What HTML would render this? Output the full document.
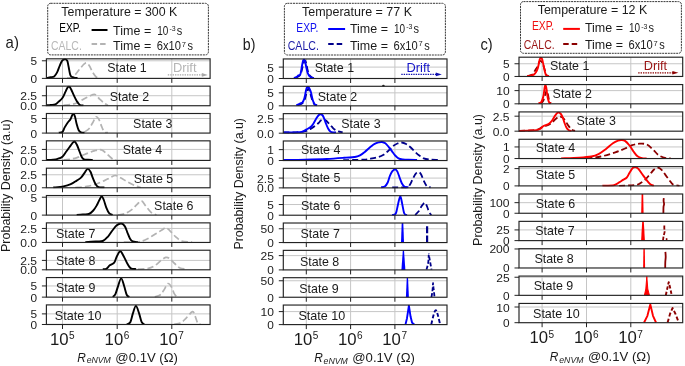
<!DOCTYPE html><html><head><meta charset="utf-8"><style>html,body{margin:0;padding:0;background:#fff;}svg{display:block;will-change:transform;}</style></head><body><svg width="685" height="366" viewBox="0 0 685 366" font-family='"Liberation Sans", sans-serif'>
<rect width="685" height="366" fill="#fff"/>
<line x1="62.50" y1="58.81" x2="62.50" y2="78.39" stroke="#c6c6c6" stroke-width="1"/>
<line x1="117.20" y1="58.81" x2="117.20" y2="78.39" stroke="#c6c6c6" stroke-width="1"/>
<line x1="171.80" y1="58.81" x2="171.80" y2="78.39" stroke="#c6c6c6" stroke-width="1"/>
<line x1="46.40" y1="60.79" x2="210.10" y2="60.79" stroke="#c6c6c6" stroke-width="1"/>
<line x1="62.50" y1="78.39" x2="62.50" y2="82.89" stroke="#222222" stroke-width="1"/>
<line x1="117.20" y1="78.39" x2="117.20" y2="82.89" stroke="#222222" stroke-width="1"/>
<line x1="171.80" y1="78.39" x2="171.80" y2="82.89" stroke="#222222" stroke-width="1"/>
<line x1="41.90" y1="60.79" x2="46.40" y2="60.79" stroke="#222222" stroke-width="1"/>
<line x1="41.90" y1="78.39" x2="46.40" y2="78.39" stroke="#222222" stroke-width="1"/>
<text x="37.00" y="65.29" font-size="10.8" text-anchor="end" fill="#1a1a1a" textLength="6.60" lengthAdjust="spacingAndGlyphs">5</text>
<text x="37.00" y="82.89" font-size="10.8" text-anchor="end" fill="#1a1a1a" textLength="6.60" lengthAdjust="spacingAndGlyphs">0</text>
<line x1="62.50" y1="86.15" x2="62.50" y2="105.73" stroke="#c6c6c6" stroke-width="1"/>
<line x1="117.20" y1="86.15" x2="117.20" y2="105.73" stroke="#c6c6c6" stroke-width="1"/>
<line x1="171.80" y1="86.15" x2="171.80" y2="105.73" stroke="#c6c6c6" stroke-width="1"/>
<line x1="46.40" y1="95.73" x2="210.10" y2="95.73" stroke="#c6c6c6" stroke-width="1"/>
<line x1="62.50" y1="105.73" x2="62.50" y2="110.23" stroke="#222222" stroke-width="1"/>
<line x1="117.20" y1="105.73" x2="117.20" y2="110.23" stroke="#222222" stroke-width="1"/>
<line x1="171.80" y1="105.73" x2="171.80" y2="110.23" stroke="#222222" stroke-width="1"/>
<line x1="41.90" y1="95.73" x2="46.40" y2="95.73" stroke="#222222" stroke-width="1"/>
<line x1="41.90" y1="105.73" x2="46.40" y2="105.73" stroke="#222222" stroke-width="1"/>
<text x="37.00" y="100.23" font-size="10.8" text-anchor="end" fill="#1a1a1a" textLength="16.80" lengthAdjust="spacingAndGlyphs">2.5</text>
<text x="37.00" y="110.23" font-size="10.8" text-anchor="end" fill="#1a1a1a" textLength="16.80" lengthAdjust="spacingAndGlyphs">0.0</text>
<line x1="62.50" y1="113.50" x2="62.50" y2="133.08" stroke="#c6c6c6" stroke-width="1"/>
<line x1="117.20" y1="113.50" x2="117.20" y2="133.08" stroke="#c6c6c6" stroke-width="1"/>
<line x1="171.80" y1="113.50" x2="171.80" y2="133.08" stroke="#c6c6c6" stroke-width="1"/>
<line x1="46.40" y1="118.48" x2="210.10" y2="118.48" stroke="#c6c6c6" stroke-width="1"/>
<line x1="62.50" y1="133.08" x2="62.50" y2="137.58" stroke="#222222" stroke-width="1"/>
<line x1="117.20" y1="133.08" x2="117.20" y2="137.58" stroke="#222222" stroke-width="1"/>
<line x1="171.80" y1="133.08" x2="171.80" y2="137.58" stroke="#222222" stroke-width="1"/>
<line x1="41.90" y1="118.48" x2="46.40" y2="118.48" stroke="#222222" stroke-width="1"/>
<line x1="41.90" y1="133.08" x2="46.40" y2="133.08" stroke="#222222" stroke-width="1"/>
<text x="37.00" y="122.98" font-size="10.8" text-anchor="end" fill="#1a1a1a" textLength="6.60" lengthAdjust="spacingAndGlyphs">5</text>
<text x="37.00" y="137.58" font-size="10.8" text-anchor="end" fill="#1a1a1a" textLength="6.60" lengthAdjust="spacingAndGlyphs">0</text>
<line x1="62.50" y1="140.84" x2="62.50" y2="160.42" stroke="#c6c6c6" stroke-width="1"/>
<line x1="117.20" y1="140.84" x2="117.20" y2="160.42" stroke="#c6c6c6" stroke-width="1"/>
<line x1="171.80" y1="140.84" x2="171.80" y2="160.42" stroke="#c6c6c6" stroke-width="1"/>
<line x1="46.40" y1="149.42" x2="210.10" y2="149.42" stroke="#c6c6c6" stroke-width="1"/>
<line x1="62.50" y1="160.42" x2="62.50" y2="164.92" stroke="#222222" stroke-width="1"/>
<line x1="117.20" y1="160.42" x2="117.20" y2="164.92" stroke="#222222" stroke-width="1"/>
<line x1="171.80" y1="160.42" x2="171.80" y2="164.92" stroke="#222222" stroke-width="1"/>
<line x1="41.90" y1="149.42" x2="46.40" y2="149.42" stroke="#222222" stroke-width="1"/>
<line x1="41.90" y1="160.42" x2="46.40" y2="160.42" stroke="#222222" stroke-width="1"/>
<text x="37.00" y="153.92" font-size="10.8" text-anchor="end" fill="#1a1a1a" textLength="16.80" lengthAdjust="spacingAndGlyphs">2.5</text>
<text x="37.00" y="164.92" font-size="10.8" text-anchor="end" fill="#1a1a1a" textLength="16.80" lengthAdjust="spacingAndGlyphs">0.0</text>
<line x1="62.50" y1="168.19" x2="62.50" y2="187.77" stroke="#c6c6c6" stroke-width="1"/>
<line x1="117.20" y1="168.19" x2="117.20" y2="187.77" stroke="#c6c6c6" stroke-width="1"/>
<line x1="171.80" y1="168.19" x2="171.80" y2="187.77" stroke="#c6c6c6" stroke-width="1"/>
<line x1="46.40" y1="174.77" x2="210.10" y2="174.77" stroke="#c6c6c6" stroke-width="1"/>
<line x1="62.50" y1="187.77" x2="62.50" y2="192.27" stroke="#222222" stroke-width="1"/>
<line x1="117.20" y1="187.77" x2="117.20" y2="192.27" stroke="#222222" stroke-width="1"/>
<line x1="171.80" y1="187.77" x2="171.80" y2="192.27" stroke="#222222" stroke-width="1"/>
<line x1="41.90" y1="174.77" x2="46.40" y2="174.77" stroke="#222222" stroke-width="1"/>
<line x1="41.90" y1="187.77" x2="46.40" y2="187.77" stroke="#222222" stroke-width="1"/>
<text x="37.00" y="179.27" font-size="10.8" text-anchor="end" fill="#1a1a1a" textLength="16.80" lengthAdjust="spacingAndGlyphs">2.5</text>
<text x="37.00" y="192.27" font-size="10.8" text-anchor="end" fill="#1a1a1a" textLength="16.80" lengthAdjust="spacingAndGlyphs">0.0</text>
<line x1="62.50" y1="195.53" x2="62.50" y2="215.11" stroke="#c6c6c6" stroke-width="1"/>
<line x1="117.20" y1="195.53" x2="117.20" y2="215.11" stroke="#c6c6c6" stroke-width="1"/>
<line x1="171.80" y1="195.53" x2="171.80" y2="215.11" stroke="#c6c6c6" stroke-width="1"/>
<line x1="46.40" y1="197.21" x2="210.10" y2="197.21" stroke="#c6c6c6" stroke-width="1"/>
<line x1="62.50" y1="215.11" x2="62.50" y2="219.61" stroke="#222222" stroke-width="1"/>
<line x1="117.20" y1="215.11" x2="117.20" y2="219.61" stroke="#222222" stroke-width="1"/>
<line x1="171.80" y1="215.11" x2="171.80" y2="219.61" stroke="#222222" stroke-width="1"/>
<line x1="41.90" y1="197.21" x2="46.40" y2="197.21" stroke="#222222" stroke-width="1"/>
<line x1="41.90" y1="215.11" x2="46.40" y2="215.11" stroke="#222222" stroke-width="1"/>
<text x="37.00" y="201.71" font-size="10.8" text-anchor="end" fill="#1a1a1a" textLength="6.60" lengthAdjust="spacingAndGlyphs">5</text>
<text x="37.00" y="219.61" font-size="10.8" text-anchor="end" fill="#1a1a1a" textLength="6.60" lengthAdjust="spacingAndGlyphs">0</text>
<line x1="62.50" y1="222.87" x2="62.50" y2="242.45" stroke="#c6c6c6" stroke-width="1"/>
<line x1="117.20" y1="222.87" x2="117.20" y2="242.45" stroke="#c6c6c6" stroke-width="1"/>
<line x1="171.80" y1="222.87" x2="171.80" y2="242.45" stroke="#c6c6c6" stroke-width="1"/>
<line x1="46.40" y1="228.45" x2="210.10" y2="228.45" stroke="#c6c6c6" stroke-width="1"/>
<line x1="62.50" y1="242.45" x2="62.50" y2="246.95" stroke="#222222" stroke-width="1"/>
<line x1="117.20" y1="242.45" x2="117.20" y2="246.95" stroke="#222222" stroke-width="1"/>
<line x1="171.80" y1="242.45" x2="171.80" y2="246.95" stroke="#222222" stroke-width="1"/>
<line x1="41.90" y1="228.45" x2="46.40" y2="228.45" stroke="#222222" stroke-width="1"/>
<line x1="41.90" y1="242.45" x2="46.40" y2="242.45" stroke="#222222" stroke-width="1"/>
<text x="37.00" y="232.95" font-size="10.8" text-anchor="end" fill="#1a1a1a" textLength="16.80" lengthAdjust="spacingAndGlyphs">2.5</text>
<text x="37.00" y="246.95" font-size="10.8" text-anchor="end" fill="#1a1a1a" textLength="16.80" lengthAdjust="spacingAndGlyphs">0.0</text>
<line x1="62.50" y1="250.22" x2="62.50" y2="269.80" stroke="#c6c6c6" stroke-width="1"/>
<line x1="117.20" y1="250.22" x2="117.20" y2="269.80" stroke="#c6c6c6" stroke-width="1"/>
<line x1="171.80" y1="250.22" x2="171.80" y2="269.80" stroke="#c6c6c6" stroke-width="1"/>
<line x1="46.40" y1="260.40" x2="210.10" y2="260.40" stroke="#c6c6c6" stroke-width="1"/>
<line x1="62.50" y1="269.80" x2="62.50" y2="274.30" stroke="#222222" stroke-width="1"/>
<line x1="117.20" y1="269.80" x2="117.20" y2="274.30" stroke="#222222" stroke-width="1"/>
<line x1="171.80" y1="269.80" x2="171.80" y2="274.30" stroke="#222222" stroke-width="1"/>
<line x1="41.90" y1="260.40" x2="46.40" y2="260.40" stroke="#222222" stroke-width="1"/>
<line x1="41.90" y1="269.80" x2="46.40" y2="269.80" stroke="#222222" stroke-width="1"/>
<text x="37.00" y="264.90" font-size="10.8" text-anchor="end" fill="#1a1a1a" textLength="16.80" lengthAdjust="spacingAndGlyphs">2.5</text>
<text x="37.00" y="274.30" font-size="10.8" text-anchor="end" fill="#1a1a1a" textLength="16.80" lengthAdjust="spacingAndGlyphs">0.0</text>
<line x1="62.50" y1="277.56" x2="62.50" y2="297.14" stroke="#c6c6c6" stroke-width="1"/>
<line x1="117.20" y1="277.56" x2="117.20" y2="297.14" stroke="#c6c6c6" stroke-width="1"/>
<line x1="171.80" y1="277.56" x2="171.80" y2="297.14" stroke="#c6c6c6" stroke-width="1"/>
<line x1="46.40" y1="285.94" x2="210.10" y2="285.94" stroke="#c6c6c6" stroke-width="1"/>
<line x1="62.50" y1="297.14" x2="62.50" y2="301.64" stroke="#222222" stroke-width="1"/>
<line x1="117.20" y1="297.14" x2="117.20" y2="301.64" stroke="#222222" stroke-width="1"/>
<line x1="171.80" y1="297.14" x2="171.80" y2="301.64" stroke="#222222" stroke-width="1"/>
<line x1="41.90" y1="285.94" x2="46.40" y2="285.94" stroke="#222222" stroke-width="1"/>
<line x1="41.90" y1="297.14" x2="46.40" y2="297.14" stroke="#222222" stroke-width="1"/>
<text x="37.00" y="290.44" font-size="10.8" text-anchor="end" fill="#1a1a1a" textLength="6.60" lengthAdjust="spacingAndGlyphs">5</text>
<text x="37.00" y="301.64" font-size="10.8" text-anchor="end" fill="#1a1a1a" textLength="6.60" lengthAdjust="spacingAndGlyphs">0</text>
<line x1="62.50" y1="304.91" x2="62.50" y2="324.49" stroke="#c6c6c6" stroke-width="1"/>
<line x1="117.20" y1="304.91" x2="117.20" y2="324.49" stroke="#c6c6c6" stroke-width="1"/>
<line x1="171.80" y1="304.91" x2="171.80" y2="324.49" stroke="#c6c6c6" stroke-width="1"/>
<line x1="46.40" y1="313.89" x2="210.10" y2="313.89" stroke="#c6c6c6" stroke-width="1"/>
<line x1="62.50" y1="324.49" x2="62.50" y2="328.99" stroke="#222222" stroke-width="1"/>
<line x1="117.20" y1="324.49" x2="117.20" y2="328.99" stroke="#222222" stroke-width="1"/>
<line x1="171.80" y1="324.49" x2="171.80" y2="328.99" stroke="#222222" stroke-width="1"/>
<line x1="41.90" y1="313.89" x2="46.40" y2="313.89" stroke="#222222" stroke-width="1"/>
<line x1="41.90" y1="324.49" x2="46.40" y2="324.49" stroke="#222222" stroke-width="1"/>
<text x="37.00" y="318.39" font-size="10.8" text-anchor="end" fill="#1a1a1a" textLength="6.60" lengthAdjust="spacingAndGlyphs">5</text>
<text x="37.00" y="328.99" font-size="10.8" text-anchor="end" fill="#1a1a1a" textLength="6.60" lengthAdjust="spacingAndGlyphs">0</text>
<line x1="306.30" y1="58.95" x2="306.30" y2="78.50" stroke="#c6c6c6" stroke-width="1"/>
<line x1="350.60" y1="58.95" x2="350.60" y2="78.50" stroke="#c6c6c6" stroke-width="1"/>
<line x1="394.90" y1="58.95" x2="394.90" y2="78.50" stroke="#c6c6c6" stroke-width="1"/>
<line x1="283.30" y1="67.10" x2="447.00" y2="67.10" stroke="#c6c6c6" stroke-width="1"/>
<line x1="306.30" y1="78.50" x2="306.30" y2="83.00" stroke="#222222" stroke-width="1"/>
<line x1="350.60" y1="78.50" x2="350.60" y2="83.00" stroke="#222222" stroke-width="1"/>
<line x1="394.90" y1="78.50" x2="394.90" y2="83.00" stroke="#222222" stroke-width="1"/>
<line x1="278.80" y1="67.10" x2="283.30" y2="67.10" stroke="#222222" stroke-width="1"/>
<line x1="278.80" y1="78.50" x2="283.30" y2="78.50" stroke="#222222" stroke-width="1"/>
<text x="273.90" y="71.60" font-size="10.8" text-anchor="end" fill="#1a1a1a" textLength="6.60" lengthAdjust="spacingAndGlyphs">5</text>
<text x="273.90" y="83.00" font-size="10.8" text-anchor="end" fill="#1a1a1a" textLength="6.60" lengthAdjust="spacingAndGlyphs">0</text>
<line x1="306.30" y1="86.29" x2="306.30" y2="105.84" stroke="#c6c6c6" stroke-width="1"/>
<line x1="350.60" y1="86.29" x2="350.60" y2="105.84" stroke="#c6c6c6" stroke-width="1"/>
<line x1="394.90" y1="86.29" x2="394.90" y2="105.84" stroke="#c6c6c6" stroke-width="1"/>
<line x1="283.30" y1="92.84" x2="447.00" y2="92.84" stroke="#c6c6c6" stroke-width="1"/>
<line x1="306.30" y1="105.84" x2="306.30" y2="110.34" stroke="#222222" stroke-width="1"/>
<line x1="350.60" y1="105.84" x2="350.60" y2="110.34" stroke="#222222" stroke-width="1"/>
<line x1="394.90" y1="105.84" x2="394.90" y2="110.34" stroke="#222222" stroke-width="1"/>
<line x1="278.80" y1="92.84" x2="283.30" y2="92.84" stroke="#222222" stroke-width="1"/>
<line x1="278.80" y1="105.84" x2="283.30" y2="105.84" stroke="#222222" stroke-width="1"/>
<text x="273.90" y="97.34" font-size="10.8" text-anchor="end" fill="#1a1a1a" textLength="6.60" lengthAdjust="spacingAndGlyphs">5</text>
<text x="273.90" y="110.34" font-size="10.8" text-anchor="end" fill="#1a1a1a" textLength="6.60" lengthAdjust="spacingAndGlyphs">0</text>
<line x1="306.30" y1="113.64" x2="306.30" y2="133.19" stroke="#c6c6c6" stroke-width="1"/>
<line x1="350.60" y1="113.64" x2="350.60" y2="133.19" stroke="#c6c6c6" stroke-width="1"/>
<line x1="394.90" y1="113.64" x2="394.90" y2="133.19" stroke="#c6c6c6" stroke-width="1"/>
<line x1="283.30" y1="118.89" x2="447.00" y2="118.89" stroke="#c6c6c6" stroke-width="1"/>
<line x1="306.30" y1="133.19" x2="306.30" y2="137.69" stroke="#222222" stroke-width="1"/>
<line x1="350.60" y1="133.19" x2="350.60" y2="137.69" stroke="#222222" stroke-width="1"/>
<line x1="394.90" y1="133.19" x2="394.90" y2="137.69" stroke="#222222" stroke-width="1"/>
<line x1="278.80" y1="118.89" x2="283.30" y2="118.89" stroke="#222222" stroke-width="1"/>
<line x1="278.80" y1="133.19" x2="283.30" y2="133.19" stroke="#222222" stroke-width="1"/>
<text x="273.90" y="123.39" font-size="10.8" text-anchor="end" fill="#1a1a1a" textLength="16.80" lengthAdjust="spacingAndGlyphs">2.5</text>
<text x="273.90" y="137.69" font-size="10.8" text-anchor="end" fill="#1a1a1a" textLength="16.80" lengthAdjust="spacingAndGlyphs">0.0</text>
<line x1="306.30" y1="140.98" x2="306.30" y2="160.53" stroke="#c6c6c6" stroke-width="1"/>
<line x1="350.60" y1="140.98" x2="350.60" y2="160.53" stroke="#c6c6c6" stroke-width="1"/>
<line x1="394.90" y1="140.98" x2="394.90" y2="160.53" stroke="#c6c6c6" stroke-width="1"/>
<line x1="283.30" y1="149.63" x2="447.00" y2="149.63" stroke="#c6c6c6" stroke-width="1"/>
<line x1="306.30" y1="160.53" x2="306.30" y2="165.03" stroke="#222222" stroke-width="1"/>
<line x1="350.60" y1="160.53" x2="350.60" y2="165.03" stroke="#222222" stroke-width="1"/>
<line x1="394.90" y1="160.53" x2="394.90" y2="165.03" stroke="#222222" stroke-width="1"/>
<line x1="278.80" y1="149.63" x2="283.30" y2="149.63" stroke="#222222" stroke-width="1"/>
<line x1="278.80" y1="160.53" x2="283.30" y2="160.53" stroke="#222222" stroke-width="1"/>
<text x="273.90" y="154.13" font-size="10.8" text-anchor="end" fill="#1a1a1a" textLength="6.60" lengthAdjust="spacingAndGlyphs">1</text>
<text x="273.90" y="165.03" font-size="10.8" text-anchor="end" fill="#1a1a1a" textLength="6.60" lengthAdjust="spacingAndGlyphs">0</text>
<line x1="306.30" y1="168.33" x2="306.30" y2="187.88" stroke="#c6c6c6" stroke-width="1"/>
<line x1="350.60" y1="168.33" x2="350.60" y2="187.88" stroke="#c6c6c6" stroke-width="1"/>
<line x1="394.90" y1="168.33" x2="394.90" y2="187.88" stroke="#c6c6c6" stroke-width="1"/>
<line x1="283.30" y1="178.08" x2="447.00" y2="178.08" stroke="#c6c6c6" stroke-width="1"/>
<line x1="306.30" y1="187.88" x2="306.30" y2="192.38" stroke="#222222" stroke-width="1"/>
<line x1="350.60" y1="187.88" x2="350.60" y2="192.38" stroke="#222222" stroke-width="1"/>
<line x1="394.90" y1="187.88" x2="394.90" y2="192.38" stroke="#222222" stroke-width="1"/>
<line x1="278.80" y1="178.08" x2="283.30" y2="178.08" stroke="#222222" stroke-width="1"/>
<line x1="278.80" y1="187.88" x2="283.30" y2="187.88" stroke="#222222" stroke-width="1"/>
<text x="273.90" y="182.58" font-size="10.8" text-anchor="end" fill="#1a1a1a" textLength="16.80" lengthAdjust="spacingAndGlyphs">2.5</text>
<text x="273.90" y="192.38" font-size="10.8" text-anchor="end" fill="#1a1a1a" textLength="16.80" lengthAdjust="spacingAndGlyphs">0.0</text>
<line x1="306.30" y1="195.67" x2="306.30" y2="215.22" stroke="#c6c6c6" stroke-width="1"/>
<line x1="350.60" y1="195.67" x2="350.60" y2="215.22" stroke="#c6c6c6" stroke-width="1"/>
<line x1="394.90" y1="195.67" x2="394.90" y2="215.22" stroke="#c6c6c6" stroke-width="1"/>
<line x1="283.30" y1="204.52" x2="447.00" y2="204.52" stroke="#c6c6c6" stroke-width="1"/>
<line x1="306.30" y1="215.22" x2="306.30" y2="219.72" stroke="#222222" stroke-width="1"/>
<line x1="350.60" y1="215.22" x2="350.60" y2="219.72" stroke="#222222" stroke-width="1"/>
<line x1="394.90" y1="215.22" x2="394.90" y2="219.72" stroke="#222222" stroke-width="1"/>
<line x1="278.80" y1="204.52" x2="283.30" y2="204.52" stroke="#222222" stroke-width="1"/>
<line x1="278.80" y1="215.22" x2="283.30" y2="215.22" stroke="#222222" stroke-width="1"/>
<text x="273.90" y="209.02" font-size="10.8" text-anchor="end" fill="#1a1a1a" textLength="6.60" lengthAdjust="spacingAndGlyphs">5</text>
<text x="273.90" y="219.72" font-size="10.8" text-anchor="end" fill="#1a1a1a" textLength="6.60" lengthAdjust="spacingAndGlyphs">0</text>
<line x1="306.30" y1="223.01" x2="306.30" y2="242.56" stroke="#c6c6c6" stroke-width="1"/>
<line x1="350.60" y1="223.01" x2="350.60" y2="242.56" stroke="#c6c6c6" stroke-width="1"/>
<line x1="394.90" y1="223.01" x2="394.90" y2="242.56" stroke="#c6c6c6" stroke-width="1"/>
<line x1="283.30" y1="228.76" x2="447.00" y2="228.76" stroke="#c6c6c6" stroke-width="1"/>
<line x1="306.30" y1="242.56" x2="306.30" y2="247.06" stroke="#222222" stroke-width="1"/>
<line x1="350.60" y1="242.56" x2="350.60" y2="247.06" stroke="#222222" stroke-width="1"/>
<line x1="394.90" y1="242.56" x2="394.90" y2="247.06" stroke="#222222" stroke-width="1"/>
<line x1="278.80" y1="228.76" x2="283.30" y2="228.76" stroke="#222222" stroke-width="1"/>
<line x1="278.80" y1="242.56" x2="283.30" y2="242.56" stroke="#222222" stroke-width="1"/>
<text x="273.90" y="233.26" font-size="10.8" text-anchor="end" fill="#1a1a1a" textLength="13.40" lengthAdjust="spacingAndGlyphs">50</text>
<text x="273.90" y="247.06" font-size="10.8" text-anchor="end" fill="#1a1a1a" textLength="6.60" lengthAdjust="spacingAndGlyphs">0</text>
<line x1="306.30" y1="250.36" x2="306.30" y2="269.91" stroke="#c6c6c6" stroke-width="1"/>
<line x1="350.60" y1="250.36" x2="350.60" y2="269.91" stroke="#c6c6c6" stroke-width="1"/>
<line x1="394.90" y1="250.36" x2="394.90" y2="269.91" stroke="#c6c6c6" stroke-width="1"/>
<line x1="283.30" y1="255.61" x2="447.00" y2="255.61" stroke="#c6c6c6" stroke-width="1"/>
<line x1="306.30" y1="269.91" x2="306.30" y2="274.41" stroke="#222222" stroke-width="1"/>
<line x1="350.60" y1="269.91" x2="350.60" y2="274.41" stroke="#222222" stroke-width="1"/>
<line x1="394.90" y1="269.91" x2="394.90" y2="274.41" stroke="#222222" stroke-width="1"/>
<line x1="278.80" y1="255.61" x2="283.30" y2="255.61" stroke="#222222" stroke-width="1"/>
<line x1="278.80" y1="269.91" x2="283.30" y2="269.91" stroke="#222222" stroke-width="1"/>
<text x="273.90" y="260.11" font-size="10.8" text-anchor="end" fill="#1a1a1a" textLength="13.40" lengthAdjust="spacingAndGlyphs">25</text>
<text x="273.90" y="274.41" font-size="10.8" text-anchor="end" fill="#1a1a1a" textLength="6.60" lengthAdjust="spacingAndGlyphs">0</text>
<line x1="306.30" y1="277.70" x2="306.30" y2="297.25" stroke="#c6c6c6" stroke-width="1"/>
<line x1="350.60" y1="277.70" x2="350.60" y2="297.25" stroke="#c6c6c6" stroke-width="1"/>
<line x1="394.90" y1="277.70" x2="394.90" y2="297.25" stroke="#c6c6c6" stroke-width="1"/>
<line x1="283.30" y1="280.75" x2="447.00" y2="280.75" stroke="#c6c6c6" stroke-width="1"/>
<line x1="306.30" y1="297.25" x2="306.30" y2="301.75" stroke="#222222" stroke-width="1"/>
<line x1="350.60" y1="297.25" x2="350.60" y2="301.75" stroke="#222222" stroke-width="1"/>
<line x1="394.90" y1="297.25" x2="394.90" y2="301.75" stroke="#222222" stroke-width="1"/>
<line x1="278.80" y1="280.75" x2="283.30" y2="280.75" stroke="#222222" stroke-width="1"/>
<line x1="278.80" y1="297.25" x2="283.30" y2="297.25" stroke="#222222" stroke-width="1"/>
<text x="273.90" y="285.25" font-size="10.8" text-anchor="end" fill="#1a1a1a" textLength="13.40" lengthAdjust="spacingAndGlyphs">50</text>
<text x="273.90" y="301.75" font-size="10.8" text-anchor="end" fill="#1a1a1a" textLength="6.60" lengthAdjust="spacingAndGlyphs">0</text>
<line x1="306.30" y1="305.05" x2="306.30" y2="324.60" stroke="#c6c6c6" stroke-width="1"/>
<line x1="350.60" y1="305.05" x2="350.60" y2="324.60" stroke="#c6c6c6" stroke-width="1"/>
<line x1="394.90" y1="305.05" x2="394.90" y2="324.60" stroke="#c6c6c6" stroke-width="1"/>
<line x1="283.30" y1="311.60" x2="447.00" y2="311.60" stroke="#c6c6c6" stroke-width="1"/>
<line x1="306.30" y1="324.60" x2="306.30" y2="329.10" stroke="#222222" stroke-width="1"/>
<line x1="350.60" y1="324.60" x2="350.60" y2="329.10" stroke="#222222" stroke-width="1"/>
<line x1="394.90" y1="324.60" x2="394.90" y2="329.10" stroke="#222222" stroke-width="1"/>
<line x1="278.80" y1="311.60" x2="283.30" y2="311.60" stroke="#222222" stroke-width="1"/>
<line x1="278.80" y1="324.60" x2="283.30" y2="324.60" stroke="#222222" stroke-width="1"/>
<text x="273.90" y="316.10" font-size="10.8" text-anchor="end" fill="#1a1a1a" textLength="13.40" lengthAdjust="spacingAndGlyphs">10</text>
<text x="273.90" y="329.10" font-size="10.8" text-anchor="end" fill="#1a1a1a" textLength="6.60" lengthAdjust="spacingAndGlyphs">0</text>
<line x1="542.10" y1="57.20" x2="542.10" y2="76.46" stroke="#c6c6c6" stroke-width="1"/>
<line x1="586.50" y1="57.20" x2="586.50" y2="76.46" stroke="#c6c6c6" stroke-width="1"/>
<line x1="630.80" y1="57.20" x2="630.80" y2="76.46" stroke="#c6c6c6" stroke-width="1"/>
<line x1="519.00" y1="63.76" x2="682.70" y2="63.76" stroke="#c6c6c6" stroke-width="1"/>
<line x1="542.10" y1="76.46" x2="542.10" y2="80.96" stroke="#222222" stroke-width="1"/>
<line x1="586.50" y1="76.46" x2="586.50" y2="80.96" stroke="#222222" stroke-width="1"/>
<line x1="630.80" y1="76.46" x2="630.80" y2="80.96" stroke="#222222" stroke-width="1"/>
<line x1="514.50" y1="63.76" x2="519.00" y2="63.76" stroke="#222222" stroke-width="1"/>
<line x1="514.50" y1="76.46" x2="519.00" y2="76.46" stroke="#222222" stroke-width="1"/>
<text x="509.60" y="68.26" font-size="10.8" text-anchor="end" fill="#1a1a1a" textLength="6.60" lengthAdjust="spacingAndGlyphs">5</text>
<text x="509.60" y="80.96" font-size="10.8" text-anchor="end" fill="#1a1a1a" textLength="6.60" lengthAdjust="spacingAndGlyphs">0</text>
<line x1="542.10" y1="84.56" x2="542.10" y2="103.82" stroke="#c6c6c6" stroke-width="1"/>
<line x1="586.50" y1="84.56" x2="586.50" y2="103.82" stroke="#c6c6c6" stroke-width="1"/>
<line x1="630.80" y1="84.56" x2="630.80" y2="103.82" stroke="#c6c6c6" stroke-width="1"/>
<line x1="519.00" y1="90.62" x2="682.70" y2="90.62" stroke="#c6c6c6" stroke-width="1"/>
<line x1="542.10" y1="103.82" x2="542.10" y2="108.32" stroke="#222222" stroke-width="1"/>
<line x1="586.50" y1="103.82" x2="586.50" y2="108.32" stroke="#222222" stroke-width="1"/>
<line x1="630.80" y1="103.82" x2="630.80" y2="108.32" stroke="#222222" stroke-width="1"/>
<line x1="514.50" y1="90.62" x2="519.00" y2="90.62" stroke="#222222" stroke-width="1"/>
<line x1="514.50" y1="103.82" x2="519.00" y2="103.82" stroke="#222222" stroke-width="1"/>
<text x="509.60" y="95.12" font-size="10.8" text-anchor="end" fill="#1a1a1a" textLength="13.40" lengthAdjust="spacingAndGlyphs">10</text>
<text x="509.60" y="108.32" font-size="10.8" text-anchor="end" fill="#1a1a1a" textLength="6.60" lengthAdjust="spacingAndGlyphs">0</text>
<line x1="542.10" y1="111.92" x2="542.10" y2="131.18" stroke="#c6c6c6" stroke-width="1"/>
<line x1="586.50" y1="111.92" x2="586.50" y2="131.18" stroke="#c6c6c6" stroke-width="1"/>
<line x1="630.80" y1="111.92" x2="630.80" y2="131.18" stroke="#c6c6c6" stroke-width="1"/>
<line x1="519.00" y1="116.18" x2="682.70" y2="116.18" stroke="#c6c6c6" stroke-width="1"/>
<line x1="542.10" y1="131.18" x2="542.10" y2="135.68" stroke="#222222" stroke-width="1"/>
<line x1="586.50" y1="131.18" x2="586.50" y2="135.68" stroke="#222222" stroke-width="1"/>
<line x1="630.80" y1="131.18" x2="630.80" y2="135.68" stroke="#222222" stroke-width="1"/>
<line x1="514.50" y1="116.18" x2="519.00" y2="116.18" stroke="#222222" stroke-width="1"/>
<line x1="514.50" y1="131.18" x2="519.00" y2="131.18" stroke="#222222" stroke-width="1"/>
<text x="509.60" y="120.68" font-size="10.8" text-anchor="end" fill="#1a1a1a" textLength="16.80" lengthAdjust="spacingAndGlyphs">2.5</text>
<text x="509.60" y="135.68" font-size="10.8" text-anchor="end" fill="#1a1a1a" textLength="16.80" lengthAdjust="spacingAndGlyphs">0.0</text>
<line x1="542.10" y1="139.28" x2="542.10" y2="158.54" stroke="#c6c6c6" stroke-width="1"/>
<line x1="586.50" y1="139.28" x2="586.50" y2="158.54" stroke="#c6c6c6" stroke-width="1"/>
<line x1="630.80" y1="139.28" x2="630.80" y2="158.54" stroke="#c6c6c6" stroke-width="1"/>
<line x1="519.00" y1="146.94" x2="682.70" y2="146.94" stroke="#c6c6c6" stroke-width="1"/>
<line x1="542.10" y1="158.54" x2="542.10" y2="163.04" stroke="#222222" stroke-width="1"/>
<line x1="586.50" y1="158.54" x2="586.50" y2="163.04" stroke="#222222" stroke-width="1"/>
<line x1="630.80" y1="158.54" x2="630.80" y2="163.04" stroke="#222222" stroke-width="1"/>
<line x1="514.50" y1="146.94" x2="519.00" y2="146.94" stroke="#222222" stroke-width="1"/>
<line x1="514.50" y1="158.54" x2="519.00" y2="158.54" stroke="#222222" stroke-width="1"/>
<text x="509.60" y="151.44" font-size="10.8" text-anchor="end" fill="#1a1a1a" textLength="6.60" lengthAdjust="spacingAndGlyphs">1</text>
<text x="509.60" y="163.04" font-size="10.8" text-anchor="end" fill="#1a1a1a" textLength="6.60" lengthAdjust="spacingAndGlyphs">0</text>
<line x1="542.10" y1="166.64" x2="542.10" y2="185.90" stroke="#c6c6c6" stroke-width="1"/>
<line x1="586.50" y1="166.64" x2="586.50" y2="185.90" stroke="#c6c6c6" stroke-width="1"/>
<line x1="630.80" y1="166.64" x2="630.80" y2="185.90" stroke="#c6c6c6" stroke-width="1"/>
<line x1="519.00" y1="168.60" x2="682.70" y2="168.60" stroke="#c6c6c6" stroke-width="1"/>
<line x1="542.10" y1="185.90" x2="542.10" y2="190.40" stroke="#222222" stroke-width="1"/>
<line x1="586.50" y1="185.90" x2="586.50" y2="190.40" stroke="#222222" stroke-width="1"/>
<line x1="630.80" y1="185.90" x2="630.80" y2="190.40" stroke="#222222" stroke-width="1"/>
<line x1="514.50" y1="168.60" x2="519.00" y2="168.60" stroke="#222222" stroke-width="1"/>
<line x1="514.50" y1="185.90" x2="519.00" y2="185.90" stroke="#222222" stroke-width="1"/>
<text x="509.60" y="173.10" font-size="10.8" text-anchor="end" fill="#1a1a1a" textLength="6.60" lengthAdjust="spacingAndGlyphs">2</text>
<text x="509.60" y="190.40" font-size="10.8" text-anchor="end" fill="#1a1a1a" textLength="6.60" lengthAdjust="spacingAndGlyphs">0</text>
<line x1="542.10" y1="194.00" x2="542.10" y2="213.26" stroke="#c6c6c6" stroke-width="1"/>
<line x1="586.50" y1="194.00" x2="586.50" y2="213.26" stroke="#c6c6c6" stroke-width="1"/>
<line x1="630.80" y1="194.00" x2="630.80" y2="213.26" stroke="#c6c6c6" stroke-width="1"/>
<line x1="519.00" y1="202.66" x2="682.70" y2="202.66" stroke="#c6c6c6" stroke-width="1"/>
<line x1="542.10" y1="213.26" x2="542.10" y2="217.76" stroke="#222222" stroke-width="1"/>
<line x1="586.50" y1="213.26" x2="586.50" y2="217.76" stroke="#222222" stroke-width="1"/>
<line x1="630.80" y1="213.26" x2="630.80" y2="217.76" stroke="#222222" stroke-width="1"/>
<line x1="514.50" y1="202.66" x2="519.00" y2="202.66" stroke="#222222" stroke-width="1"/>
<line x1="514.50" y1="213.26" x2="519.00" y2="213.26" stroke="#222222" stroke-width="1"/>
<text x="509.60" y="207.16" font-size="10.8" text-anchor="end" fill="#1a1a1a" textLength="20.20" lengthAdjust="spacingAndGlyphs">100</text>
<text x="509.60" y="217.76" font-size="10.8" text-anchor="end" fill="#1a1a1a" textLength="6.60" lengthAdjust="spacingAndGlyphs">0</text>
<line x1="542.10" y1="221.36" x2="542.10" y2="240.62" stroke="#c6c6c6" stroke-width="1"/>
<line x1="586.50" y1="221.36" x2="586.50" y2="240.62" stroke="#c6c6c6" stroke-width="1"/>
<line x1="630.80" y1="221.36" x2="630.80" y2="240.62" stroke="#c6c6c6" stroke-width="1"/>
<line x1="519.00" y1="229.92" x2="682.70" y2="229.92" stroke="#c6c6c6" stroke-width="1"/>
<line x1="542.10" y1="240.62" x2="542.10" y2="245.12" stroke="#222222" stroke-width="1"/>
<line x1="586.50" y1="240.62" x2="586.50" y2="245.12" stroke="#222222" stroke-width="1"/>
<line x1="630.80" y1="240.62" x2="630.80" y2="245.12" stroke="#222222" stroke-width="1"/>
<line x1="514.50" y1="229.92" x2="519.00" y2="229.92" stroke="#222222" stroke-width="1"/>
<line x1="514.50" y1="240.62" x2="519.00" y2="240.62" stroke="#222222" stroke-width="1"/>
<text x="509.60" y="234.42" font-size="10.8" text-anchor="end" fill="#1a1a1a" textLength="13.40" lengthAdjust="spacingAndGlyphs">25</text>
<text x="509.60" y="245.12" font-size="10.8" text-anchor="end" fill="#1a1a1a" textLength="6.60" lengthAdjust="spacingAndGlyphs">0</text>
<line x1="542.10" y1="248.72" x2="542.10" y2="267.98" stroke="#c6c6c6" stroke-width="1"/>
<line x1="586.50" y1="248.72" x2="586.50" y2="267.98" stroke="#c6c6c6" stroke-width="1"/>
<line x1="630.80" y1="248.72" x2="630.80" y2="267.98" stroke="#c6c6c6" stroke-width="1"/>
<line x1="519.00" y1="248.98" x2="682.70" y2="248.98" stroke="#c6c6c6" stroke-width="1"/>
<line x1="542.10" y1="267.98" x2="542.10" y2="272.48" stroke="#222222" stroke-width="1"/>
<line x1="586.50" y1="267.98" x2="586.50" y2="272.48" stroke="#222222" stroke-width="1"/>
<line x1="630.80" y1="267.98" x2="630.80" y2="272.48" stroke="#222222" stroke-width="1"/>
<line x1="514.50" y1="248.98" x2="519.00" y2="248.98" stroke="#222222" stroke-width="1"/>
<line x1="514.50" y1="267.98" x2="519.00" y2="267.98" stroke="#222222" stroke-width="1"/>
<text x="509.60" y="253.48" font-size="10.8" text-anchor="end" fill="#1a1a1a" textLength="20.20" lengthAdjust="spacingAndGlyphs">200</text>
<text x="509.60" y="272.48" font-size="10.8" text-anchor="end" fill="#1a1a1a" textLength="6.60" lengthAdjust="spacingAndGlyphs">0</text>
<line x1="542.10" y1="276.08" x2="542.10" y2="295.34" stroke="#c6c6c6" stroke-width="1"/>
<line x1="586.50" y1="276.08" x2="586.50" y2="295.34" stroke="#c6c6c6" stroke-width="1"/>
<line x1="630.80" y1="276.08" x2="630.80" y2="295.34" stroke="#c6c6c6" stroke-width="1"/>
<line x1="519.00" y1="277.24" x2="682.70" y2="277.24" stroke="#c6c6c6" stroke-width="1"/>
<line x1="542.10" y1="295.34" x2="542.10" y2="299.84" stroke="#222222" stroke-width="1"/>
<line x1="586.50" y1="295.34" x2="586.50" y2="299.84" stroke="#222222" stroke-width="1"/>
<line x1="630.80" y1="295.34" x2="630.80" y2="299.84" stroke="#222222" stroke-width="1"/>
<line x1="514.50" y1="277.24" x2="519.00" y2="277.24" stroke="#222222" stroke-width="1"/>
<line x1="514.50" y1="295.34" x2="519.00" y2="295.34" stroke="#222222" stroke-width="1"/>
<text x="509.60" y="281.74" font-size="10.8" text-anchor="end" fill="#1a1a1a" textLength="13.40" lengthAdjust="spacingAndGlyphs">25</text>
<text x="509.60" y="299.84" font-size="10.8" text-anchor="end" fill="#1a1a1a" textLength="6.60" lengthAdjust="spacingAndGlyphs">0</text>
<line x1="542.10" y1="303.44" x2="542.10" y2="322.70" stroke="#c6c6c6" stroke-width="1"/>
<line x1="586.50" y1="303.44" x2="586.50" y2="322.70" stroke="#c6c6c6" stroke-width="1"/>
<line x1="630.80" y1="303.44" x2="630.80" y2="322.70" stroke="#c6c6c6" stroke-width="1"/>
<line x1="519.00" y1="307.00" x2="682.70" y2="307.00" stroke="#c6c6c6" stroke-width="1"/>
<line x1="542.10" y1="322.70" x2="542.10" y2="327.20" stroke="#222222" stroke-width="1"/>
<line x1="586.50" y1="322.70" x2="586.50" y2="327.20" stroke="#222222" stroke-width="1"/>
<line x1="630.80" y1="322.70" x2="630.80" y2="327.20" stroke="#222222" stroke-width="1"/>
<line x1="514.50" y1="307.00" x2="519.00" y2="307.00" stroke="#222222" stroke-width="1"/>
<line x1="514.50" y1="322.70" x2="519.00" y2="322.70" stroke="#222222" stroke-width="1"/>
<text x="509.60" y="311.50" font-size="10.8" text-anchor="end" fill="#1a1a1a" textLength="13.40" lengthAdjust="spacingAndGlyphs">10</text>
<text x="509.60" y="327.20" font-size="10.8" text-anchor="end" fill="#1a1a1a" textLength="6.60" lengthAdjust="spacingAndGlyphs">0</text>
<defs>
<clipPath id="ca0"><rect x="46.40" y="58.31" width="163.70" height="20.58"/></clipPath>
<clipPath id="ca1"><rect x="46.40" y="85.65" width="163.70" height="20.58"/></clipPath>
<clipPath id="ca2"><rect x="46.40" y="113.00" width="163.70" height="20.58"/></clipPath>
<clipPath id="ca3"><rect x="46.40" y="140.34" width="163.70" height="20.58"/></clipPath>
<clipPath id="ca4"><rect x="46.40" y="167.69" width="163.70" height="20.58"/></clipPath>
<clipPath id="ca5"><rect x="46.40" y="195.03" width="163.70" height="20.58"/></clipPath>
<clipPath id="ca6"><rect x="46.40" y="222.37" width="163.70" height="20.58"/></clipPath>
<clipPath id="ca7"><rect x="46.40" y="249.72" width="163.70" height="20.58"/></clipPath>
<clipPath id="ca8"><rect x="46.40" y="277.06" width="163.70" height="20.58"/></clipPath>
<clipPath id="ca9"><rect x="46.40" y="304.41" width="163.70" height="20.58"/></clipPath>
<clipPath id="cb0"><rect x="283.30" y="58.45" width="163.70" height="20.55"/></clipPath>
<clipPath id="cb1"><rect x="283.30" y="85.79" width="163.70" height="20.55"/></clipPath>
<clipPath id="cb2"><rect x="283.30" y="113.14" width="163.70" height="20.55"/></clipPath>
<clipPath id="cb3"><rect x="283.30" y="140.48" width="163.70" height="20.55"/></clipPath>
<clipPath id="cb4"><rect x="283.30" y="167.83" width="163.70" height="20.55"/></clipPath>
<clipPath id="cb5"><rect x="283.30" y="195.17" width="163.70" height="20.55"/></clipPath>
<clipPath id="cb6"><rect x="283.30" y="222.51" width="163.70" height="20.55"/></clipPath>
<clipPath id="cb7"><rect x="283.30" y="249.86" width="163.70" height="20.55"/></clipPath>
<clipPath id="cb8"><rect x="283.30" y="277.20" width="163.70" height="20.55"/></clipPath>
<clipPath id="cb9"><rect x="283.30" y="304.55" width="163.70" height="20.55"/></clipPath>
<clipPath id="cc0"><rect x="519.00" y="56.70" width="163.70" height="20.26"/></clipPath>
<clipPath id="cc1"><rect x="519.00" y="84.06" width="163.70" height="20.26"/></clipPath>
<clipPath id="cc2"><rect x="519.00" y="111.42" width="163.70" height="20.26"/></clipPath>
<clipPath id="cc3"><rect x="519.00" y="138.78" width="163.70" height="20.26"/></clipPath>
<clipPath id="cc4"><rect x="519.00" y="166.14" width="163.70" height="20.26"/></clipPath>
<clipPath id="cc5"><rect x="519.00" y="193.50" width="163.70" height="20.26"/></clipPath>
<clipPath id="cc6"><rect x="519.00" y="220.86" width="163.70" height="20.26"/></clipPath>
<clipPath id="cc7"><rect x="519.00" y="248.22" width="163.70" height="20.26"/></clipPath>
<clipPath id="cc8"><rect x="519.00" y="275.58" width="163.70" height="20.26"/></clipPath>
<clipPath id="cc9"><rect x="519.00" y="302.94" width="163.70" height="20.26"/></clipPath>
</defs>
<path d="M67.00,78.00 C67.83,77.93 70.63,78.15 72.00,77.60 C73.37,77.05 73.88,76.17 75.20,74.70 C76.52,73.23 78.43,70.55 79.90,68.80 C81.37,67.05 82.83,65.17 84.00,64.20 C85.17,63.23 85.93,62.62 86.90,63.00 C87.87,63.38 88.83,64.93 89.80,66.50 C90.77,68.07 91.63,70.65 92.70,72.40 C93.77,74.15 95.03,76.07 96.20,77.00 C97.37,77.93 99.12,77.83 99.70,78.00" fill="none" stroke="#b3b3b3" stroke-width="1.7" stroke-linejoin="round" stroke-linecap="butt" stroke-dasharray="6.5,3" clip-path="url(#ca0)"/>
<path d="M63.50,105.40 C64.87,105.23 69.37,104.85 71.70,104.40 C74.03,103.95 75.55,103.57 77.50,102.70 C79.45,101.83 81.45,100.27 83.40,99.20 C85.35,98.13 87.27,97.08 89.20,96.30 C91.13,95.52 93.25,94.02 95.00,94.50 C96.75,94.98 98.13,97.73 99.70,99.20 C101.27,100.67 103.03,102.27 104.40,103.30 C105.77,104.33 107.32,105.05 107.90,105.40" fill="none" stroke="#b3b3b3" stroke-width="1.7" stroke-linejoin="round" stroke-linecap="butt" stroke-dasharray="6.5,3" clip-path="url(#ca1)"/>
<path d="M84.50,132.00 C85.28,131.42 87.83,130.05 89.20,128.50 C90.57,126.95 91.53,124.65 92.70,122.70 C93.87,120.75 95.13,117.28 96.20,116.80 C97.27,116.32 98.22,118.23 99.10,119.80 C99.98,121.37 100.62,124.17 101.50,126.20 C102.38,128.23 103.33,130.92 104.40,132.00 C105.47,133.08 107.32,132.58 107.90,132.70" fill="none" stroke="#b3b3b3" stroke-width="1.7" stroke-linejoin="round" stroke-linecap="butt" stroke-dasharray="6.5,3" clip-path="url(#ca2)"/>
<path d="M63.50,160.00 C64.48,159.88 67.25,159.65 69.40,159.30 C71.55,158.95 74.27,158.53 76.40,157.90 C78.53,157.27 80.07,156.38 82.20,155.50 C84.33,154.62 87.07,153.42 89.20,152.60 C91.33,151.78 93.25,151.08 95.00,150.60 C96.75,150.12 98.33,149.67 99.70,149.70 C101.07,149.73 101.83,149.93 103.20,150.80 C104.57,151.67 106.33,153.53 107.90,154.90 C109.47,156.27 111.23,158.15 112.60,159.00 C113.97,159.85 115.52,159.83 116.10,160.00" fill="none" stroke="#b3b3b3" stroke-width="1.7" stroke-linejoin="round" stroke-linecap="butt" stroke-dasharray="6.5,3" clip-path="url(#ca3)"/>
<path d="M75.20,187.50 C77.15,187.32 83.50,186.95 86.90,186.40 C90.30,185.85 92.68,185.17 95.60,184.20 C98.52,183.23 101.97,181.68 104.40,180.60 C106.83,179.52 108.38,178.55 110.20,177.70 C112.02,176.85 113.58,175.50 115.30,175.50 C117.02,175.50 118.42,176.60 120.50,177.70 C122.58,178.80 125.38,180.77 127.80,182.10 C130.22,183.43 132.82,184.80 135.00,185.70 C137.18,186.60 139.92,187.20 140.90,187.50" fill="none" stroke="#b3b3b3" stroke-width="1.7" stroke-linejoin="round" stroke-linecap="butt" stroke-dasharray="6.5,3" clip-path="url(#ca4)"/>
<path d="M117.80,214.90 C118.97,214.70 122.47,214.58 124.80,213.70 C127.13,212.82 129.75,211.15 131.80,209.60 C133.85,208.05 135.48,205.85 137.10,204.40 C138.72,202.95 140.03,200.62 141.50,200.90 C142.97,201.18 144.30,204.20 145.90,206.10 C147.50,208.00 149.35,210.83 151.10,212.30 C152.85,213.77 155.52,214.47 156.40,214.90" fill="none" stroke="#b3b3b3" stroke-width="1.7" stroke-linejoin="round" stroke-linecap="butt" stroke-dasharray="6.5,3" clip-path="url(#ca5)"/>
<path d="M123.80,242.20 C126.13,242.15 134.00,242.38 137.80,241.90 C141.60,241.42 143.68,240.62 146.60,239.30 C149.52,237.98 152.68,235.58 155.30,234.00 C157.92,232.42 160.55,230.87 162.30,229.80 C164.05,228.73 164.60,227.52 165.80,227.60 C167.00,227.68 167.88,228.80 169.50,230.30 C171.12,231.80 173.48,234.82 175.50,236.60 C177.52,238.38 178.83,240.07 181.60,241.00 C184.37,241.93 190.35,242.00 192.10,242.20" fill="none" stroke="#b3b3b3" stroke-width="1.7" stroke-linejoin="round" stroke-linecap="butt" stroke-dasharray="6.5,3" clip-path="url(#ca6)"/>
<path d="M137.80,269.10 C139.55,268.98 145.38,269.03 148.30,268.40 C151.22,267.77 153.10,266.70 155.30,265.30 C157.50,263.90 159.75,261.32 161.50,260.00 C163.25,258.68 164.50,257.68 165.80,257.40 C167.10,257.12 167.83,257.28 169.30,258.30 C170.77,259.32 172.83,261.90 174.60,263.50 C176.37,265.10 177.85,266.97 179.90,267.90 C181.95,268.83 185.73,268.90 186.90,269.10" fill="none" stroke="#b3b3b3" stroke-width="1.7" stroke-linejoin="round" stroke-linecap="butt" stroke-dasharray="6.5,3" clip-path="url(#ca7)"/>
<path d="M154.80,296.80 C155.68,296.50 158.63,296.03 160.10,295.00 C161.57,293.97 162.28,292.50 163.60,290.60 C164.92,288.70 166.68,284.18 168.00,283.60 C169.32,283.02 170.48,285.48 171.50,287.10 C172.52,288.72 173.23,291.68 174.10,293.30 C174.97,294.92 176.27,296.22 176.70,296.80" fill="none" stroke="#b3b3b3" stroke-width="1.7" stroke-linejoin="round" stroke-linecap="butt" stroke-dasharray="6.5,3" clip-path="url(#ca8)"/>
<path d="M174.10,324.30 C175.27,324.03 179.05,323.78 181.10,322.70 C183.15,321.62 184.50,319.63 186.40,317.80 C188.30,315.97 191.05,312.00 192.50,311.70 C193.95,311.40 194.23,314.12 195.10,316.00 C195.97,317.88 196.82,321.62 197.70,323.00 C198.58,324.38 199.95,324.08 200.40,324.30" fill="none" stroke="#b3b3b3" stroke-width="1.7" stroke-linejoin="round" stroke-linecap="butt" stroke-dasharray="6.5,3" clip-path="url(#ca9)"/>
<path d="M46.40,78.00 C47.12,77.88 49.40,77.57 50.70,77.30 C52.00,77.03 53.13,77.22 54.20,76.40 C55.27,75.58 56.23,74.05 57.10,72.40 C57.97,70.75 58.62,68.35 59.40,66.50 C60.18,64.65 61.10,62.45 61.80,61.30 C62.50,60.15 63.03,59.97 63.60,59.60 C64.17,59.23 64.67,59.00 65.20,59.10 C65.73,59.20 66.40,59.75 66.80,60.20 C67.20,60.65 67.27,60.55 67.60,61.80 C67.93,63.05 68.42,65.75 68.80,67.70 C69.18,69.65 69.52,72.05 69.90,73.50 C70.28,74.95 70.42,75.72 71.10,76.40 C71.78,77.08 72.93,77.33 74.00,77.60 C75.07,77.87 76.92,77.93 77.50,78.00" fill="none" stroke="#000000" stroke-width="1.9" stroke-linejoin="round" stroke-linecap="butt" clip-path="url(#ca0)"/>
<path d="M46.40,105.40 C47.12,105.33 49.22,105.17 50.70,105.00 C52.18,104.83 53.95,104.98 55.30,104.40 C56.65,103.82 57.62,102.57 58.80,101.50 C59.98,100.43 61.32,99.55 62.40,98.00 C63.48,96.45 64.43,93.95 65.30,92.20 C66.17,90.45 66.92,88.43 67.60,87.50 C68.28,86.57 68.82,86.30 69.40,86.60 C69.98,86.90 70.33,87.78 71.10,89.30 C71.87,90.82 73.02,93.67 74.00,95.70 C74.98,97.73 76.02,99.95 77.00,101.50 C77.98,103.05 78.83,104.35 79.90,105.00 C80.97,105.65 82.82,105.33 83.40,105.40" fill="none" stroke="#000000" stroke-width="1.9" stroke-linejoin="round" stroke-linecap="butt" clip-path="url(#ca1)"/>
<path d="M58.80,132.70 C59.40,132.58 61.42,132.88 62.40,132.00 C63.38,131.12 63.83,128.95 64.70,127.40 C65.57,125.85 66.63,124.07 67.60,122.70 C68.57,121.33 69.58,120.72 70.50,119.20 C71.42,117.68 72.35,114.00 73.10,113.60 C73.85,113.20 74.42,115.10 75.00,116.80 C75.58,118.50 75.98,121.55 76.60,123.80 C77.22,126.05 77.97,128.87 78.70,130.30 C79.43,131.73 80.03,132.00 81.00,132.40 C81.97,132.80 83.92,132.65 84.50,132.70" fill="none" stroke="#000000" stroke-width="1.9" stroke-linejoin="round" stroke-linecap="butt" clip-path="url(#ca2)"/>
<path d="M46.40,160.00 C47.50,159.93 51.12,159.80 53.00,159.60 C54.88,159.40 56.13,159.28 57.70,158.80 C59.27,158.32 61.03,157.83 62.40,156.70 C63.77,155.57 64.73,153.57 65.90,152.00 C67.07,150.43 68.33,148.75 69.40,147.30 C70.47,145.85 71.43,144.27 72.30,143.30 C73.17,142.33 73.82,141.22 74.60,141.50 C75.38,141.78 76.22,143.45 77.00,145.00 C77.78,146.55 78.53,148.85 79.30,150.80 C80.07,152.75 80.82,155.28 81.60,156.70 C82.38,158.12 82.93,158.80 84.00,159.30 C85.07,159.80 86.55,159.58 88.00,159.70 C89.45,159.82 91.92,159.95 92.70,160.00" fill="none" stroke="#000000" stroke-width="1.9" stroke-linejoin="round" stroke-linecap="butt" clip-path="url(#ca3)"/>
<path d="M53.30,187.50 C55.00,187.32 60.58,186.95 63.50,186.40 C66.42,185.85 68.60,185.17 70.80,184.20 C73.00,183.23 75.00,181.68 76.70,180.60 C78.40,179.52 79.67,179.03 81.00,177.70 C82.33,176.37 83.60,174.07 84.70,172.60 C85.80,171.13 86.63,169.03 87.60,168.90 C88.57,168.77 89.65,170.33 90.50,171.80 C91.35,173.27 91.85,175.63 92.70,177.70 C93.55,179.77 94.62,182.62 95.60,184.20 C96.58,185.78 97.13,186.65 98.60,187.20 C100.07,187.75 103.43,187.45 104.40,187.50" fill="none" stroke="#000000" stroke-width="1.9" stroke-linejoin="round" stroke-linecap="butt" clip-path="url(#ca4)"/>
<path d="M76.70,214.90 C77.72,214.82 80.77,214.55 82.80,214.40 C84.83,214.25 87.15,214.65 88.90,214.00 C90.65,213.35 91.98,211.95 93.30,210.50 C94.62,209.05 95.78,207.05 96.80,205.30 C97.82,203.55 98.58,201.52 99.40,200.00 C100.22,198.48 100.97,196.20 101.70,196.20 C102.43,196.20 103.02,198.05 103.80,200.00 C104.58,201.95 105.52,205.72 106.40,207.90 C107.28,210.08 108.07,211.93 109.10,213.10 C110.13,214.27 112.02,214.60 112.60,214.90" fill="none" stroke="#000000" stroke-width="1.9" stroke-linejoin="round" stroke-linecap="butt" clip-path="url(#ca5)"/>
<path d="M85.30,242.20 C87.05,242.08 92.88,241.70 95.80,241.50 C98.72,241.30 100.77,241.82 102.80,241.00 C104.83,240.18 106.40,238.35 108.00,236.60 C109.60,234.85 110.93,232.38 112.40,230.50 C113.87,228.62 115.33,226.47 116.80,225.30 C118.27,224.13 119.88,223.37 121.20,223.50 C122.52,223.63 123.68,224.63 124.70,226.10 C125.72,227.57 126.43,230.25 127.30,232.30 C128.17,234.35 129.02,236.88 129.90,238.40 C130.78,239.92 131.28,240.77 132.60,241.40 C133.92,242.03 136.93,242.07 137.80,242.20" fill="none" stroke="#000000" stroke-width="1.9" stroke-linejoin="round" stroke-linecap="butt" clip-path="url(#ca6)"/>
<path d="M102.80,269.10 C103.38,269.05 105.13,269.43 106.30,268.80 C107.47,268.17 108.48,266.33 109.80,265.30 C111.12,264.27 113.03,264.07 114.20,262.60 C115.37,261.13 115.78,258.38 116.80,256.50 C117.82,254.62 119.13,251.30 120.30,251.30 C121.47,251.30 122.63,254.47 123.80,256.50 C124.97,258.53 126.13,261.52 127.30,263.50 C128.47,265.48 129.33,267.47 130.80,268.40 C132.27,269.33 135.22,268.98 136.10,269.10" fill="none" stroke="#000000" stroke-width="1.9" stroke-linejoin="round" stroke-linecap="butt" clip-path="url(#ca7)"/>
<path d="M112.80,296.80 C113.23,296.35 114.53,295.85 115.40,294.10 C116.27,292.35 117.03,288.92 118.00,286.30 C118.97,283.68 120.17,278.40 121.20,278.40 C122.23,278.40 123.27,283.53 124.20,286.30 C125.13,289.07 125.93,293.25 126.80,295.00 C127.67,296.75 128.97,296.50 129.40,296.80" fill="none" stroke="#000000" stroke-width="1.9" stroke-linejoin="round" stroke-linecap="butt" clip-path="url(#ca8)"/>
<path d="M126.80,324.30 C127.38,323.95 129.28,324.02 130.30,322.20 C131.32,320.38 131.97,316.12 132.90,313.40 C133.83,310.68 134.87,305.90 135.90,305.90 C136.93,305.90 138.13,310.68 139.10,313.40 C140.07,316.12 140.83,320.38 141.70,322.20 C142.57,324.02 143.87,323.95 144.30,324.30" fill="none" stroke="#000000" stroke-width="1.9" stroke-linejoin="round" stroke-linecap="butt" clip-path="url(#ca9)"/>
<path d="M295.00,78.10 C295.67,77.78 297.97,77.13 299.00,76.20 C300.03,75.27 300.57,74.20 301.20,72.50 C301.83,70.80 302.28,67.83 302.80,66.00 C303.32,64.17 303.87,62.33 304.30,61.50 C304.73,60.67 305.03,60.50 305.40,61.00 C305.77,61.50 306.13,63.00 306.50,64.50 C306.87,66.00 307.18,68.28 307.60,70.00 C308.02,71.72 308.27,73.55 309.00,74.80 C309.73,76.05 311.17,76.95 312.00,77.50 C312.83,78.05 313.67,78.00 314.00,78.10" fill="none" stroke="#00008b" stroke-width="1.8" stroke-linejoin="round" stroke-linecap="butt" stroke-dasharray="6,3" clip-path="url(#cb0)"/>
<path d="M298.00,105.30 C298.67,105.00 300.92,104.38 302.00,103.50 C303.08,102.62 303.83,101.42 304.50,100.00 C305.17,98.58 305.52,96.58 306.00,95.00 C306.48,93.42 306.95,91.58 307.40,90.50 C307.85,89.42 308.30,88.33 308.70,88.50 C309.10,88.67 309.42,90.25 309.80,91.50 C310.18,92.75 310.53,94.42 311.00,96.00 C311.47,97.58 312.02,99.62 312.60,101.00 C313.18,102.38 313.77,103.58 314.50,104.30 C315.23,105.02 316.58,105.13 317.00,105.30" fill="none" stroke="#00008b" stroke-width="1.8" stroke-linejoin="round" stroke-linecap="butt" stroke-dasharray="6,3" clip-path="url(#cb1)"/>
<path d="M283.30,132.40 C285.42,132.40 292.30,132.62 296.00,132.40 C299.70,132.18 303.07,131.68 305.50,131.10 C307.93,130.52 309.02,129.75 310.60,128.90 C312.18,128.05 313.67,126.98 315.00,126.00 C316.33,125.02 317.63,123.92 318.60,123.00 C319.57,122.08 320.00,121.07 320.80,120.50 C321.60,119.93 322.55,119.60 323.40,119.60 C324.25,119.60 325.00,119.87 325.90,120.50 C326.80,121.13 327.82,122.37 328.80,123.40 C329.78,124.43 330.82,125.67 331.80,126.70 C332.78,127.73 333.62,128.82 334.70,129.60 C335.78,130.38 336.97,130.93 338.30,131.40 C339.63,131.87 341.97,132.23 342.70,132.40" fill="none" stroke="#00008b" stroke-width="1.8" stroke-linejoin="round" stroke-linecap="butt" stroke-dasharray="6,3" clip-path="url(#cb2)"/>
<path d="M343.20,160.20 C346.55,160.10 358.83,159.83 363.30,159.60 C367.77,159.37 367.78,159.15 370.00,158.80 C372.22,158.45 374.42,158.13 376.60,157.50 C378.78,156.87 381.10,156.15 383.10,155.00 C385.10,153.85 386.95,152.07 388.60,150.60 C390.25,149.13 391.53,147.38 393.00,146.20 C394.47,145.02 395.93,144.12 397.40,143.50 C398.87,142.88 400.35,142.42 401.80,142.50 C403.25,142.58 404.65,143.20 406.10,144.00 C407.55,144.80 409.03,146.02 410.50,147.30 C411.97,148.58 413.43,150.33 414.90,151.70 C416.37,153.07 417.83,154.40 419.30,155.50 C420.77,156.60 422.07,157.65 423.70,158.30 C425.33,158.95 426.73,159.12 429.10,159.40 C431.47,159.68 436.43,159.90 437.90,160.00" fill="none" stroke="#00008b" stroke-width="1.8" stroke-linejoin="round" stroke-linecap="butt" stroke-dasharray="6,3" clip-path="url(#cb3)"/>
<path d="M392.20,187.30 C394.65,187.30 403.95,187.73 406.90,187.30 C409.85,186.87 408.92,186.12 409.90,184.70 C410.88,183.28 411.82,180.65 412.80,178.80 C413.78,176.95 414.82,174.72 415.80,173.60 C416.78,172.48 417.83,171.98 418.70,172.10 C419.57,172.22 420.13,172.82 421.00,174.30 C421.87,175.78 422.92,179.02 423.90,181.00 C424.88,182.98 425.78,185.15 426.90,186.20 C428.02,187.25 429.98,187.12 430.60,187.30" fill="none" stroke="#00008b" stroke-width="1.8" stroke-linejoin="round" stroke-linecap="butt" stroke-dasharray="6,3" clip-path="url(#cb4)"/>
<path d="M415.10,215.00 C415.70,214.38 417.60,212.78 418.70,211.30 C419.80,209.82 420.70,207.53 421.70,206.10 C422.70,204.67 423.83,202.70 424.70,202.70 C425.57,202.70 426.17,204.55 426.90,206.10 C427.63,207.65 428.37,210.52 429.10,212.00 C429.83,213.48 430.93,214.50 431.30,215.00" fill="none" stroke="#00008b" stroke-width="1.8" stroke-linejoin="round" stroke-linecap="butt" stroke-dasharray="6,3" clip-path="url(#cb5)"/>
<path d="M293.90,78.10 C294.33,77.92 295.73,77.47 296.50,77.00 C297.27,76.53 297.88,75.68 298.50,75.30 C299.12,74.92 299.77,75.40 300.20,74.70 C300.63,74.00 300.78,72.68 301.10,71.10 C301.42,69.52 301.77,66.95 302.10,65.20 C302.43,63.45 302.78,61.57 303.10,60.60 C303.42,59.63 303.70,59.40 304.00,59.40 C304.30,59.40 304.62,59.75 304.90,60.60 C305.18,61.45 305.40,63.08 305.70,64.50 C306.00,65.92 306.37,67.68 306.70,69.10 C307.03,70.52 307.32,71.92 307.70,73.00 C308.08,74.08 308.45,74.88 309.00,75.60 C309.55,76.32 310.23,76.88 311.00,77.30 C311.77,77.72 313.17,77.97 313.60,78.10" fill="none" stroke="#0000ff" stroke-width="1.9" stroke-linejoin="round" stroke-linecap="butt" clip-path="url(#cb0)"/>
<path d="M296.30,105.30 C296.90,105.02 298.87,104.10 299.90,103.60 C300.93,103.10 301.80,103.05 302.50,102.30 C303.20,101.55 303.67,100.30 304.10,99.10 C304.53,97.90 304.77,96.63 305.10,95.10 C305.43,93.57 305.77,91.22 306.10,89.90 C306.43,88.58 306.78,87.73 307.10,87.20 C307.42,86.67 307.73,86.70 308.00,86.70 C308.27,86.70 308.42,86.78 308.70,87.20 C308.98,87.62 309.32,88.32 309.70,89.20 C310.08,90.08 310.62,91.18 311.00,92.50 C311.38,93.82 311.62,95.57 312.00,97.10 C312.38,98.63 312.82,100.45 313.30,101.70 C313.78,102.95 314.30,104.00 314.90,104.60 C315.50,105.20 316.57,105.18 316.90,105.30" fill="none" stroke="#0000ff" stroke-width="1.9" stroke-linejoin="round" stroke-linecap="butt" clip-path="url(#cb1)"/>
<path d="M283.30,132.40 C285.42,132.40 292.92,132.50 296.00,132.40 C299.08,132.30 300.10,132.27 301.80,131.80 C303.50,131.33 304.73,130.38 306.20,129.60 C307.67,128.82 309.38,128.13 310.60,127.10 C311.82,126.07 312.53,124.87 313.50,123.40 C314.47,121.93 315.55,119.67 316.40,118.30 C317.25,116.93 317.92,115.87 318.60,115.20 C319.28,114.53 319.88,114.33 320.50,114.30 C321.12,114.27 321.70,114.33 322.30,115.00 C322.90,115.67 323.50,116.90 324.10,118.30 C324.70,119.70 325.23,121.70 325.90,123.40 C326.57,125.10 327.37,127.17 328.10,128.50 C328.83,129.83 329.45,130.75 330.30,131.40 C331.15,132.05 332.25,132.23 333.20,132.40 C334.15,132.57 335.53,132.40 336.00,132.40" fill="none" stroke="#0000ff" stroke-width="1.9" stroke-linejoin="round" stroke-linecap="butt" clip-path="url(#cb2)"/>
<path d="M283.30,160.00 C286.90,159.95 297.65,159.87 304.90,159.70 C312.15,159.53 320.23,159.32 326.80,159.00 C333.37,158.68 339.43,158.18 344.30,157.80 C349.17,157.42 353.32,157.13 356.00,156.70 C358.68,156.27 358.93,156.00 360.40,155.20 C361.87,154.40 363.10,153.30 364.80,151.90 C366.50,150.50 368.97,148.15 370.60,146.80 C372.23,145.45 373.23,144.53 374.60,143.80 C375.97,143.07 377.57,142.70 378.80,142.40 C380.03,142.10 380.92,141.85 382.00,142.00 C383.08,142.15 384.20,142.50 385.30,143.30 C386.40,144.10 387.50,145.50 388.60,146.80 C389.70,148.10 390.80,149.65 391.90,151.10 C393.00,152.55 394.10,154.30 395.20,155.50 C396.30,156.70 397.22,157.65 398.50,158.30 C399.78,158.95 401.27,159.15 402.90,159.40 C404.53,159.65 405.93,159.70 408.30,159.80 C410.67,159.90 415.63,159.97 417.10,160.00" fill="none" stroke="#0000ff" stroke-width="1.9" stroke-linejoin="round" stroke-linecap="butt" clip-path="url(#cb3)"/>
<path d="M381.10,187.30 C381.72,187.17 383.70,187.30 384.80,186.50 C385.90,185.70 386.85,184.28 387.70,182.50 C388.55,180.72 389.15,177.65 389.90,175.80 C390.65,173.95 391.33,172.50 392.20,171.40 C393.07,170.30 394.25,169.20 395.10,169.20 C395.95,169.20 396.57,170.05 397.30,171.40 C398.03,172.75 398.75,175.33 399.50,177.30 C400.25,179.27 400.93,181.60 401.80,183.20 C402.67,184.80 403.60,186.22 404.70,186.90 C405.80,187.58 407.78,187.23 408.40,187.30" fill="none" stroke="#0000ff" stroke-width="1.9" stroke-linejoin="round" stroke-linecap="butt" clip-path="url(#cb4)"/>
<path d="M392.20,215.00 C392.80,214.75 394.82,215.35 395.80,213.50 C396.78,211.65 397.35,206.78 398.10,203.90 C398.85,201.02 399.62,196.20 400.30,196.20 C400.98,196.20 401.53,201.02 402.20,203.90 C402.87,206.78 403.52,211.65 404.30,213.50 C405.08,215.35 406.47,214.75 406.90,215.00" fill="none" stroke="#0000ff" stroke-width="1.9" stroke-linejoin="round" stroke-linecap="butt" clip-path="url(#cb5)"/>
<path d="M401.00,242.56 L401.70,223.01 L403.30,223.01 L404.00,242.56 Z" fill="#0000ff" clip-path="url(#cb6)"/>
<line x1="427.10" y1="242.56" x2="427.10" y2="226.00" stroke="#00008b" stroke-width="2.2" stroke-dasharray="7,2.2" clip-path="url(#cb6)"/>
<path d="M401.40,269.91 L402.80,250.60 L404.00,250.60 L405.40,269.91 Z" fill="#0000ff" clip-path="url(#cb7)"/>
<path d="M426.50,269.60 C426.67,269.00 427.20,267.27 427.50,266.00 C427.80,264.73 428.12,263.33 428.30,262.00 C428.48,260.67 428.52,259.30 428.60,258.00 C428.68,256.70 428.67,254.20 428.80,254.20 C428.93,254.20 429.12,256.37 429.40,258.00 C429.68,259.63 430.15,262.07 430.50,264.00 C430.85,265.93 431.33,268.67 431.50,269.60" fill="none" stroke="#00008b" stroke-width="1.8" stroke-linejoin="round" stroke-linecap="butt" stroke-dasharray="4,2" clip-path="url(#cb7)"/>
<path d="M405.90,297.25 L406.75,278.00 L408.05,278.00 L408.90,297.25 Z" fill="#0000ff" clip-path="url(#cb8)"/>
<path d="M431.50,297.20 C431.63,296.33 432.08,293.70 432.30,292.00 C432.52,290.30 432.68,288.53 432.80,287.00 C432.92,285.47 432.90,282.80 433.00,282.80 C433.10,282.80 433.23,285.47 433.40,287.00 C433.57,288.53 433.82,290.30 434.00,292.00 C434.18,293.70 434.42,296.33 434.50,297.20" fill="none" stroke="#00008b" stroke-width="1.8" stroke-linejoin="round" stroke-linecap="butt" stroke-dasharray="4,2" clip-path="url(#cb8)"/>
<path d="M405.50,324.40 L407.00,318.20 L408.90,305.70 L410.60,316.80 L412.10,322.70 L414.30,324.40" fill="none" stroke="#0000ff" stroke-width="1.9" stroke-linejoin="round" stroke-linecap="butt" clip-path="url(#cb9)"/>
<path d="M431.30,324.40 C431.67,322.88 432.77,317.68 433.50,315.30 C434.23,312.92 434.97,310.10 435.70,310.10 C436.43,310.10 437.17,312.92 437.90,315.30 C438.63,317.68 439.73,322.88 440.10,324.40" fill="none" stroke="#00008b" stroke-width="1.9" stroke-linejoin="round" stroke-linecap="butt" stroke-dasharray="4,2.2" clip-path="url(#cb9)"/>
<path d="M527.30,76.10 C528.17,75.85 531.30,75.38 532.50,74.60 C533.70,73.82 533.90,72.37 534.50,71.40 C535.10,70.43 535.55,69.68 536.10,68.80 C536.65,67.92 537.30,67.20 537.80,66.10 C538.30,65.00 538.63,63.07 539.10,62.20 C539.57,61.33 540.13,60.90 540.60,60.90 C541.07,60.90 541.40,61.33 541.90,62.20 C542.40,63.07 543.08,64.68 543.60,66.10 C544.12,67.52 544.55,69.28 545.00,70.70 C545.45,72.12 545.87,73.70 546.30,74.60 C546.73,75.50 547.38,75.85 547.60,76.10" fill="none" stroke="#8b0000" stroke-width="1.8" stroke-linejoin="round" stroke-linecap="butt" stroke-dasharray="6,3" clip-path="url(#cc0)"/>
<path d="M540.50,103.30 C540.93,102.92 542.33,102.37 543.10,101.00 C543.87,99.63 544.58,96.68 545.10,95.10 C545.62,93.52 545.90,92.27 546.20,91.50 C546.50,90.73 546.65,90.23 546.90,90.50 C547.15,90.77 547.40,91.78 547.70,93.10 C548.00,94.42 548.38,96.87 548.70,98.40 C549.02,99.93 549.22,101.48 549.60,102.30 C549.98,103.12 550.77,103.13 551.00,103.30" fill="none" stroke="#8b0000" stroke-width="1.8" stroke-linejoin="round" stroke-linecap="butt" stroke-dasharray="6,3" clip-path="url(#cc1)"/>
<path d="M519.00,130.90 C521.18,130.80 528.97,130.53 532.10,130.30 C535.23,130.07 536.18,130.00 537.80,129.50 C539.42,129.00 540.55,127.88 541.80,127.30 C543.05,126.72 544.13,126.45 545.30,126.00 C546.47,125.55 547.63,125.20 548.80,124.60 C549.97,124.00 551.13,123.35 552.30,122.40 C553.47,121.45 554.78,119.80 555.80,118.90 C556.82,118.00 557.53,117.35 558.40,117.00 C559.27,116.65 560.12,116.55 561.00,116.80 C561.88,117.05 562.82,117.57 563.70,118.50 C564.58,119.43 565.43,121.08 566.30,122.40 C567.17,123.72 568.03,125.22 568.90,126.40 C569.77,127.58 570.48,128.77 571.50,129.50 C572.52,130.23 574.42,130.58 575.00,130.80" fill="none" stroke="#8b0000" stroke-width="1.8" stroke-linejoin="round" stroke-linecap="butt" stroke-dasharray="6,3" clip-path="url(#cc2)"/>
<path d="M586.40,158.40 C588.82,158.08 596.08,157.50 600.90,156.50 C605.72,155.50 611.28,153.73 615.30,152.40 C619.32,151.07 622.18,149.70 625.00,148.50 C627.82,147.30 629.80,146.00 632.20,145.20 C634.60,144.40 637.00,143.83 639.40,143.70 C641.80,143.57 644.38,143.48 646.60,144.40 C648.82,145.32 650.68,147.38 652.70,149.20 C654.72,151.02 656.50,153.80 658.70,155.30 C660.90,156.80 663.90,157.68 665.90,158.20 C667.90,158.72 669.90,158.37 670.70,158.40" fill="none" stroke="#8b0000" stroke-width="1.8" stroke-linejoin="round" stroke-linecap="butt" stroke-dasharray="6,3" clip-path="url(#cc3)"/>
<path d="M619.10,185.80 C621.68,185.68 631.17,185.47 634.60,185.10 C638.03,184.73 638.00,184.43 639.70,183.60 C641.40,182.77 643.08,181.65 644.80,180.10 C646.52,178.55 648.50,176.02 650.00,174.30 C651.50,172.58 652.52,170.90 653.80,169.80 C655.08,168.70 656.40,167.70 657.70,167.70 C659.00,167.70 660.32,168.60 661.60,169.80 C662.88,171.00 664.12,173.18 665.40,174.90 C666.68,176.62 668.02,178.48 669.30,180.10 C670.58,181.72 671.40,183.65 673.10,184.60 C674.80,185.55 678.43,185.60 679.50,185.80" fill="none" stroke="#8b0000" stroke-width="1.8" stroke-linejoin="round" stroke-linecap="butt" stroke-dasharray="6,3" clip-path="url(#cc4)"/>
<path d="M527.30,76.10 C527.83,76.02 529.42,75.85 530.50,75.60 C531.58,75.35 532.87,75.20 533.80,74.60 C534.73,74.00 535.43,73.08 536.10,72.00 C536.77,70.92 537.37,69.40 537.80,68.10 C538.23,66.80 538.38,65.62 538.70,64.20 C539.02,62.78 539.33,60.70 539.70,59.60 C540.07,58.50 540.52,57.72 540.90,57.60 C541.28,57.48 541.65,58.02 542.00,58.90 C542.35,59.78 542.67,61.48 543.00,62.90 C543.33,64.32 543.67,65.88 544.00,67.40 C544.33,68.92 544.62,70.68 545.00,72.00 C545.38,73.32 545.65,74.62 546.30,75.30 C546.95,75.98 548.47,75.97 548.90,76.10" fill="none" stroke="#ff0000" stroke-width="1.9" stroke-linejoin="round" stroke-linecap="butt" clip-path="url(#cc0)"/>
<path d="M538.50,103.30 C538.93,103.13 540.38,103.12 541.10,102.30 C541.82,101.48 542.35,99.82 542.80,98.40 C543.25,96.98 543.48,95.67 543.80,93.80 C544.12,91.93 544.43,88.68 544.70,87.20 C544.97,85.72 545.15,84.90 545.40,84.90 C545.65,84.90 545.93,85.83 546.20,87.20 C546.47,88.57 546.70,91.13 547.00,93.10 C547.30,95.07 547.62,97.42 548.00,99.00 C548.38,100.58 548.80,101.88 549.30,102.60 C549.80,103.32 550.72,103.18 551.00,103.30" fill="none" stroke="#ff0000" stroke-width="1.9" stroke-linejoin="round" stroke-linecap="butt" clip-path="url(#cc1)"/>
<path d="M519.00,130.90 C520.47,130.85 524.88,130.73 527.80,130.60 C530.72,130.47 534.47,130.37 536.50,130.10 C538.53,129.83 538.83,129.68 540.00,129.00 C541.17,128.32 542.33,126.73 543.50,126.00 C544.67,125.27 545.98,125.05 547.00,124.60 C548.02,124.15 548.72,124.02 549.60,123.30 C550.48,122.58 551.42,121.53 552.30,120.30 C553.18,119.07 554.03,117.15 554.90,115.90 C555.77,114.65 556.77,113.35 557.50,112.80 C558.23,112.25 558.72,112.38 559.30,112.60 C559.88,112.82 560.42,113.27 561.00,114.10 C561.58,114.93 562.22,116.13 562.80,117.60 C563.38,119.07 563.85,121.15 564.50,122.90 C565.15,124.65 565.97,126.87 566.70,128.10 C567.43,129.33 568.10,129.83 568.90,130.30 C569.70,130.77 571.07,130.80 571.50,130.90" fill="none" stroke="#ff0000" stroke-width="1.9" stroke-linejoin="round" stroke-linecap="butt" clip-path="url(#cc2)"/>
<path d="M561.10,158.40 C564.12,158.28 574.17,158.02 579.20,157.70 C584.23,157.38 588.08,157.10 591.30,156.50 C594.52,155.90 596.10,155.32 598.50,154.10 C600.90,152.88 603.30,151.02 605.70,149.20 C608.10,147.38 610.85,144.63 612.90,143.20 C614.95,141.77 616.57,141.13 618.00,140.60 C619.43,140.07 620.33,139.95 621.50,140.00 C622.67,140.05 623.67,139.98 625.00,140.90 C626.33,141.82 628.08,143.73 629.50,145.50 C630.92,147.27 632.17,149.70 633.50,151.50 C634.83,153.30 636.08,155.18 637.50,156.30 C638.92,157.42 640.48,157.85 642.00,158.20 C643.52,158.55 645.83,158.37 646.60,158.40" fill="none" stroke="#ff0000" stroke-width="1.9" stroke-linejoin="round" stroke-linecap="butt" clip-path="url(#cc3)"/>
<path d="M602.40,185.80 C604.33,185.70 611.22,185.77 614.00,185.20 C616.78,184.63 617.60,183.28 619.10,182.40 C620.60,181.52 621.72,180.72 623.00,179.90 C624.28,179.08 625.73,178.65 626.80,177.50 C627.87,176.35 628.43,174.57 629.40,173.00 C630.37,171.43 631.60,169.10 632.60,168.10 C633.60,167.10 634.43,166.87 635.40,167.00 C636.37,167.13 637.25,167.68 638.40,168.90 C639.55,170.12 641.02,172.55 642.30,174.30 C643.58,176.05 644.82,177.80 646.10,179.40 C647.38,181.00 648.72,182.83 650.00,183.90 C651.28,184.97 653.17,185.48 653.80,185.80" fill="none" stroke="#ff0000" stroke-width="1.9" stroke-linejoin="round" stroke-linecap="butt" clip-path="url(#cc4)"/>
<path d="M641.20,213.26 L641.60,194.00 L643.20,194.00 L643.60,213.26 Z" fill="#ff0000" clip-path="url(#cc5)"/>
<path d="M663.40,213.26 C663.42,212.22 663.38,208.54 663.50,207.00 C663.62,205.46 664.08,205.00 664.10,204.00 C664.12,203.00 663.65,201.98 663.60,201.00 C663.55,200.02 663.77,198.58 663.80,198.10" fill="none" stroke="#8b0000" stroke-width="1.8" stroke-linejoin="round" stroke-linecap="butt" clip-path="url(#cc5)"/>
<path d="M641.10,240.62 L642.20,221.36 L643.80,221.36 L644.90,240.62 Z" fill="#ff0000" clip-path="url(#cc6)"/>
<path d="M663.00,240.62 C663.10,239.85 663.33,237.44 663.60,236.00 C663.87,234.56 664.48,233.33 664.60,232.00 C664.72,230.67 664.33,229.30 664.30,228.00 C664.27,226.70 664.38,224.83 664.40,224.20" fill="none" stroke="#8b0000" stroke-width="1.8" stroke-linejoin="round" stroke-linecap="butt" stroke-dasharray="4,1.6" clip-path="url(#cc6)"/>
<rect x="665.8" y="238.2" width="1.6" height="1.8" fill="#8b0000"/>
<path d="M643.10,267.98 L643.40,248.72 L644.80,248.72 L645.10,267.98 Z" fill="#ff0000" clip-path="url(#cc7)"/>
<path d="M665.20,267.98 C665.22,266.98 665.22,263.83 665.30,262.00 C665.38,260.17 665.68,258.68 665.70,257.00 C665.72,255.32 665.45,252.75 665.40,251.90" fill="none" stroke="#8b0000" stroke-width="1.8" stroke-linejoin="round" stroke-linecap="butt" clip-path="url(#cc7)"/>
<path d="M644.4,295.2 L645.8,289 L646.8,276.5 L647.8,289 L649.4,295.2 Z" fill="#ff0000" stroke="#ff0000" stroke-width="1" clip-path="url(#cc8)"/>
<path d="M665.80,295.20 L667.40,288.00 L668.70,282.10 L670.20,288.00 L671.70,295.20" fill="none" stroke="#8b0000" stroke-width="1.9" stroke-linejoin="round" stroke-linecap="butt" stroke-dasharray="3.5,2" clip-path="url(#cc8)"/>
<path d="M644.10,322.50 L647.40,315.80 L650.30,304.40 L653.00,315.80 L656.00,322.50" fill="none" stroke="#ff0000" stroke-width="1.9" stroke-linejoin="round" stroke-linecap="butt" clip-path="url(#cc9)"/>
<path d="M667.60,322.50 L670.00,314.00 L672.60,308.00 L675.50,314.00 L678.80,322.50" fill="none" stroke="#8b0000" stroke-width="1.9" stroke-linejoin="round" stroke-linecap="butt" stroke-dasharray="4,2.2" clip-path="url(#cc9)"/>
<ellipse cx="383.4" cy="85.7" rx="1.3" ry="0.9" fill="#222"/>
<rect x="46.40" y="58.81" width="163.70" height="19.58" fill="none" stroke="#222222" stroke-width="1.15"/>
<rect x="46.40" y="86.15" width="163.70" height="19.58" fill="none" stroke="#222222" stroke-width="1.15"/>
<rect x="46.40" y="113.50" width="163.70" height="19.58" fill="none" stroke="#222222" stroke-width="1.15"/>
<rect x="46.40" y="140.84" width="163.70" height="19.58" fill="none" stroke="#222222" stroke-width="1.15"/>
<rect x="46.40" y="168.19" width="163.70" height="19.58" fill="none" stroke="#222222" stroke-width="1.15"/>
<rect x="46.40" y="195.53" width="163.70" height="19.58" fill="none" stroke="#222222" stroke-width="1.15"/>
<rect x="46.40" y="222.87" width="163.70" height="19.58" fill="none" stroke="#222222" stroke-width="1.15"/>
<rect x="46.40" y="250.22" width="163.70" height="19.58" fill="none" stroke="#222222" stroke-width="1.15"/>
<rect x="46.40" y="277.56" width="163.70" height="19.58" fill="none" stroke="#222222" stroke-width="1.15"/>
<rect x="46.40" y="304.91" width="163.70" height="19.58" fill="none" stroke="#222222" stroke-width="1.15"/>
<rect x="283.30" y="58.95" width="163.70" height="19.55" fill="none" stroke="#222222" stroke-width="1.15"/>
<rect x="283.30" y="86.29" width="163.70" height="19.55" fill="none" stroke="#222222" stroke-width="1.15"/>
<rect x="283.30" y="113.64" width="163.70" height="19.55" fill="none" stroke="#222222" stroke-width="1.15"/>
<rect x="283.30" y="140.98" width="163.70" height="19.55" fill="none" stroke="#222222" stroke-width="1.15"/>
<rect x="283.30" y="168.33" width="163.70" height="19.55" fill="none" stroke="#222222" stroke-width="1.15"/>
<rect x="283.30" y="195.67" width="163.70" height="19.55" fill="none" stroke="#222222" stroke-width="1.15"/>
<rect x="283.30" y="223.01" width="163.70" height="19.55" fill="none" stroke="#222222" stroke-width="1.15"/>
<rect x="283.30" y="250.36" width="163.70" height="19.55" fill="none" stroke="#222222" stroke-width="1.15"/>
<rect x="283.30" y="277.70" width="163.70" height="19.55" fill="none" stroke="#222222" stroke-width="1.15"/>
<rect x="283.30" y="305.05" width="163.70" height="19.55" fill="none" stroke="#222222" stroke-width="1.15"/>
<rect x="519.00" y="57.20" width="163.70" height="19.26" fill="none" stroke="#222222" stroke-width="1.15"/>
<rect x="519.00" y="84.56" width="163.70" height="19.26" fill="none" stroke="#222222" stroke-width="1.15"/>
<rect x="519.00" y="111.92" width="163.70" height="19.26" fill="none" stroke="#222222" stroke-width="1.15"/>
<rect x="519.00" y="139.28" width="163.70" height="19.26" fill="none" stroke="#222222" stroke-width="1.15"/>
<rect x="519.00" y="166.64" width="163.70" height="19.26" fill="none" stroke="#222222" stroke-width="1.15"/>
<rect x="519.00" y="194.00" width="163.70" height="19.26" fill="none" stroke="#222222" stroke-width="1.15"/>
<rect x="519.00" y="221.36" width="163.70" height="19.26" fill="none" stroke="#222222" stroke-width="1.15"/>
<rect x="519.00" y="248.72" width="163.70" height="19.26" fill="none" stroke="#222222" stroke-width="1.15"/>
<rect x="519.00" y="276.08" width="163.70" height="19.26" fill="none" stroke="#222222" stroke-width="1.15"/>
<rect x="519.00" y="303.44" width="163.70" height="19.26" fill="none" stroke="#222222" stroke-width="1.15"/>
<text x="5.60" y="47.90" font-size="17" fill="#1a1a1a" text-anchor="start" textLength="13.30" lengthAdjust="spacingAndGlyphs">a)</text>
<text x="242.80" y="49.70" font-size="17" fill="#1a1a1a" text-anchor="start" textLength="12.60" lengthAdjust="spacingAndGlyphs">b)</text>
<text x="480.40" y="49.70" font-size="17" fill="#1a1a1a" text-anchor="start" textLength="12.20" lengthAdjust="spacingAndGlyphs">c)</text>
<text transform="translate(10.20,252.00) rotate(-90)" x="0" y="0" font-size="12.3" fill="#1a1a1a" textLength="132.60" lengthAdjust="spacingAndGlyphs">Probability Density (a.u)</text>
<text transform="translate(243.40,249.60) rotate(-90)" x="0" y="0" font-size="12.3" fill="#1a1a1a" textLength="131.60" lengthAdjust="spacingAndGlyphs">Probability Density (a.u)</text>
<text transform="translate(482.20,245.90) rotate(-90)" x="0" y="0" font-size="12.3" fill="#1a1a1a" textLength="131.90" lengthAdjust="spacingAndGlyphs">Probability Density (a.u)</text>
<rect x="47.70" y="3.30" width="160.70" height="51.60" rx="3" ry="3" fill="#fff" stroke="#383838" stroke-width="1" stroke-dasharray="2,0.8"/>
<text x="61.30" y="15.80" font-size="12.2" fill="#1a1a1a" text-anchor="start" textLength="116.00" lengthAdjust="spacingAndGlyphs">Temperature = 300 K</text>
<text x="59.30" y="31.60" font-size="12.2" fill="#000000" text-anchor="start" textLength="21.70" lengthAdjust="spacingAndGlyphs">EXP.</text>
<text x="51.10" y="50.00" font-size="12.2" fill="#b8b8b8" text-anchor="start" textLength="30.70" lengthAdjust="spacingAndGlyphs">CALC.</text>
<line x1="91.60" y1="30.00" x2="107.50" y2="30.00" stroke="#000000" stroke-width="2"/>
<line x1="91.60" y1="43.90" x2="107.50" y2="43.90" stroke="#b3b3b3" stroke-width="2" stroke-dasharray="5.5,3"/>
<text x="113.10" y="34.50" font-size="12.2" fill="#1a1a1a" text-anchor="start" textLength="38.10" lengthAdjust="spacingAndGlyphs">Time =</text>
<text x="113.10" y="50.30" font-size="12.2" fill="#1a1a1a" text-anchor="start" textLength="38.10" lengthAdjust="spacingAndGlyphs">Time =</text>
<text x="157.20" y="34.50" font-size="12.2" fill="#1a1a1a" text-anchor="start" textLength="11.10" lengthAdjust="spacingAndGlyphs">10</text>
<text x="169.50" y="30.90" font-size="6.6" fill="#1a1a1a" text-anchor="start" textLength="6.20" lengthAdjust="spacingAndGlyphs">-3</text>
<text x="176.70" y="34.50" font-size="12.2" fill="#1a1a1a" text-anchor="start" textLength="5.50" lengthAdjust="spacingAndGlyphs">s</text>
<text x="156.70" y="50.30" font-size="12.2" fill="#1a1a1a" text-anchor="start" textLength="24.20" lengthAdjust="spacingAndGlyphs">6x10</text>
<text x="181.80" y="46.70" font-size="6.6" fill="#1a1a1a" text-anchor="start" textLength="4.20" lengthAdjust="spacingAndGlyphs">7</text>
<text x="187.40" y="50.30" font-size="12.2" fill="#1a1a1a" text-anchor="start" textLength="5.50" lengthAdjust="spacingAndGlyphs">s</text>
<rect x="284.40" y="3.30" width="161.00" height="51.70" rx="3" ry="3" fill="#fff" stroke="#383838" stroke-width="1" stroke-dasharray="2,0.8"/>
<text x="302.00" y="15.90" font-size="12.2" fill="#1a1a1a" text-anchor="start" textLength="110.00" lengthAdjust="spacingAndGlyphs">Temperature = 77 K</text>
<text x="296.30" y="31.70" font-size="12.2" fill="#1010f0" text-anchor="start" textLength="22.10" lengthAdjust="spacingAndGlyphs">EXP.</text>
<text x="287.70" y="50.00" font-size="12.2" fill="#1a1aa6" text-anchor="start" textLength="31.20" lengthAdjust="spacingAndGlyphs">CALC.</text>
<line x1="328.20" y1="29.00" x2="345.10" y2="29.00" stroke="#0000ff" stroke-width="2"/>
<line x1="328.20" y1="44.00" x2="345.10" y2="44.00" stroke="#00008b" stroke-width="2" stroke-dasharray="5.5,3"/>
<text x="349.90" y="32.90" font-size="12.2" fill="#1a1a1a" text-anchor="start" textLength="38.10" lengthAdjust="spacingAndGlyphs">Time =</text>
<text x="349.90" y="49.60" font-size="12.2" fill="#1a1a1a" text-anchor="start" textLength="38.10" lengthAdjust="spacingAndGlyphs">Time =</text>
<text x="394.00" y="32.90" font-size="12.2" fill="#1a1a1a" text-anchor="start" textLength="11.10" lengthAdjust="spacingAndGlyphs">10</text>
<text x="406.30" y="29.30" font-size="6.6" fill="#1a1a1a" text-anchor="start" textLength="6.20" lengthAdjust="spacingAndGlyphs">-3</text>
<text x="413.50" y="32.90" font-size="12.2" fill="#1a1a1a" text-anchor="start" textLength="5.50" lengthAdjust="spacingAndGlyphs">s</text>
<text x="393.50" y="49.60" font-size="12.2" fill="#1a1a1a" text-anchor="start" textLength="24.20" lengthAdjust="spacingAndGlyphs">6x10</text>
<text x="418.60" y="46.00" font-size="6.6" fill="#1a1a1a" text-anchor="start" textLength="4.20" lengthAdjust="spacingAndGlyphs">7</text>
<text x="424.20" y="49.60" font-size="12.2" fill="#1a1a1a" text-anchor="start" textLength="5.50" lengthAdjust="spacingAndGlyphs">s</text>
<rect x="520.50" y="1.60" width="160.90" height="51.70" rx="3" ry="3" fill="#fff" stroke="#383838" stroke-width="1" stroke-dasharray="2,0.8"/>
<text x="537.70" y="13.90" font-size="12.2" fill="#1a1a1a" text-anchor="start" textLength="109.60" lengthAdjust="spacingAndGlyphs">Temperature = 12 K</text>
<text x="532.00" y="30.40" font-size="12.2" fill="#f01010" text-anchor="start" textLength="22.10" lengthAdjust="spacingAndGlyphs">EXP.</text>
<text x="523.80" y="48.90" font-size="12.2" fill="#9a1414" text-anchor="start" textLength="30.80" lengthAdjust="spacingAndGlyphs">CALC.</text>
<line x1="563.20" y1="28.90" x2="579.90" y2="28.90" stroke="#ff0000" stroke-width="2"/>
<line x1="563.20" y1="44.00" x2="579.90" y2="44.00" stroke="#8b0000" stroke-width="2" stroke-dasharray="5.5,3"/>
<text x="584.90" y="32.40" font-size="12.2" fill="#1a1a1a" text-anchor="start" textLength="38.10" lengthAdjust="spacingAndGlyphs">Time =</text>
<text x="584.90" y="49.30" font-size="12.2" fill="#1a1a1a" text-anchor="start" textLength="38.10" lengthAdjust="spacingAndGlyphs">Time =</text>
<text x="629.00" y="32.40" font-size="12.2" fill="#1a1a1a" text-anchor="start" textLength="11.10" lengthAdjust="spacingAndGlyphs">10</text>
<text x="641.30" y="28.80" font-size="6.6" fill="#1a1a1a" text-anchor="start" textLength="6.20" lengthAdjust="spacingAndGlyphs">-3</text>
<text x="648.50" y="32.40" font-size="12.2" fill="#1a1a1a" text-anchor="start" textLength="5.50" lengthAdjust="spacingAndGlyphs">s</text>
<text x="628.50" y="49.30" font-size="12.2" fill="#1a1a1a" text-anchor="start" textLength="24.20" lengthAdjust="spacingAndGlyphs">6x10</text>
<text x="653.60" y="45.70" font-size="6.6" fill="#1a1a1a" text-anchor="start" textLength="4.20" lengthAdjust="spacingAndGlyphs">7</text>
<text x="659.20" y="49.30" font-size="12.2" fill="#1a1a1a" text-anchor="start" textLength="5.50" lengthAdjust="spacingAndGlyphs">s</text>
<text x="107.30" y="72.40" font-size="12.2" fill="#1a1a1a" text-anchor="start" textLength="39.40" lengthAdjust="spacingAndGlyphs">State 1</text>
<text x="109.70" y="101.30" font-size="12.2" fill="#1a1a1a" text-anchor="start" textLength="39.40" lengthAdjust="spacingAndGlyphs">State 2</text>
<text x="133.10" y="127.80" font-size="12.2" fill="#1a1a1a" text-anchor="start" textLength="39.40" lengthAdjust="spacingAndGlyphs">State 3</text>
<text x="122.80" y="154.40" font-size="12.2" fill="#1a1a1a" text-anchor="start" textLength="39.40" lengthAdjust="spacingAndGlyphs">State 4</text>
<text x="133.80" y="182.60" font-size="12.2" fill="#1a1a1a" text-anchor="start" textLength="39.40" lengthAdjust="spacingAndGlyphs">State 5</text>
<text x="154.10" y="210.30" font-size="12.2" fill="#1a1a1a" text-anchor="start" textLength="39.40" lengthAdjust="spacingAndGlyphs">State 6</text>
<text x="56.00" y="238.20" font-size="12.2" fill="#1a1a1a" text-anchor="start" textLength="39.40" lengthAdjust="spacingAndGlyphs">State 7</text>
<text x="56.00" y="265.30" font-size="12.2" fill="#1a1a1a" text-anchor="start" textLength="39.40" lengthAdjust="spacingAndGlyphs">State 8</text>
<text x="56.00" y="292.20" font-size="12.2" fill="#1a1a1a" text-anchor="start" textLength="39.40" lengthAdjust="spacingAndGlyphs">State 9</text>
<text x="54.80" y="320.20" font-size="12.2" fill="#1a1a1a" text-anchor="start" textLength="46.80" lengthAdjust="spacingAndGlyphs">State 10</text>
<text x="314.70" y="72.40" font-size="12.2" fill="#1a1a1a" text-anchor="start" textLength="39.40" lengthAdjust="spacingAndGlyphs">State 1</text>
<text x="317.80" y="100.60" font-size="12.2" fill="#1a1a1a" text-anchor="start" textLength="39.40" lengthAdjust="spacingAndGlyphs">State 2</text>
<text x="341.20" y="127.80" font-size="12.2" fill="#1a1a1a" text-anchor="start" textLength="39.40" lengthAdjust="spacingAndGlyphs">State 3</text>
<text x="301.00" y="154.40" font-size="12.2" fill="#1a1a1a" text-anchor="start" textLength="39.40" lengthAdjust="spacingAndGlyphs">State 4</text>
<text x="301.00" y="182.10" font-size="12.2" fill="#1a1a1a" text-anchor="start" textLength="39.40" lengthAdjust="spacingAndGlyphs">State 5</text>
<text x="301.00" y="209.80" font-size="12.2" fill="#1a1a1a" text-anchor="start" textLength="39.40" lengthAdjust="spacingAndGlyphs">State 6</text>
<text x="300.50" y="237.70" font-size="12.2" fill="#1a1a1a" text-anchor="start" textLength="39.40" lengthAdjust="spacingAndGlyphs">State 7</text>
<text x="299.90" y="265.70" font-size="12.2" fill="#1a1a1a" text-anchor="start" textLength="39.40" lengthAdjust="spacingAndGlyphs">State 8</text>
<text x="299.30" y="292.90" font-size="12.2" fill="#1a1a1a" text-anchor="start" textLength="39.40" lengthAdjust="spacingAndGlyphs">State 9</text>
<text x="298.40" y="319.80" font-size="12.2" fill="#1a1a1a" text-anchor="start" textLength="46.80" lengthAdjust="spacingAndGlyphs">State 10</text>
<text x="550.00" y="69.70" font-size="12.2" fill="#1a1a1a" text-anchor="start" textLength="39.40" lengthAdjust="spacingAndGlyphs">State 1</text>
<text x="552.60" y="98.10" font-size="12.2" fill="#1a1a1a" text-anchor="start" textLength="39.40" lengthAdjust="spacingAndGlyphs">State 2</text>
<text x="576.50" y="125.00" font-size="12.2" fill="#1a1a1a" text-anchor="start" textLength="39.40" lengthAdjust="spacingAndGlyphs">State 3</text>
<text x="535.80" y="151.70" font-size="12.2" fill="#1a1a1a" text-anchor="start" textLength="39.40" lengthAdjust="spacingAndGlyphs">State 4</text>
<text x="535.80" y="179.40" font-size="12.2" fill="#1a1a1a" text-anchor="start" textLength="39.40" lengthAdjust="spacingAndGlyphs">State 5</text>
<text x="535.80" y="207.50" font-size="12.2" fill="#1a1a1a" text-anchor="start" textLength="39.40" lengthAdjust="spacingAndGlyphs">State 6</text>
<text x="535.30" y="235.10" font-size="12.2" fill="#1a1a1a" text-anchor="start" textLength="39.40" lengthAdjust="spacingAndGlyphs">State 7</text>
<text x="534.40" y="263.20" font-size="12.2" fill="#1a1a1a" text-anchor="start" textLength="39.40" lengthAdjust="spacingAndGlyphs">State 8</text>
<text x="533.80" y="290.30" font-size="12.2" fill="#1a1a1a" text-anchor="start" textLength="39.40" lengthAdjust="spacingAndGlyphs">State 9</text>
<text x="533.00" y="317.50" font-size="12.2" fill="#1a1a1a" text-anchor="start" textLength="46.80" lengthAdjust="spacingAndGlyphs">State 10</text>
<text x="172.90" y="71.90" font-size="12.2" fill="#b5b5b5" text-anchor="start" textLength="23.60" lengthAdjust="spacingAndGlyphs">Drift</text>
<line x1="167.80" y1="74.90" x2="202.80" y2="74.90" stroke="#a8a8a8" stroke-width="1.3" stroke-dasharray="1.4,1"/>
<path d="M201.80,73.10 L207.80,74.90 L201.80,76.70 Z" fill="#a8a8a8"/>
<text x="406.60" y="71.70" font-size="12.2" fill="#1414c8" text-anchor="start" textLength="23.50" lengthAdjust="spacingAndGlyphs">Drift</text>
<line x1="401.30" y1="74.40" x2="436.80" y2="74.40" stroke="#1010b0" stroke-width="1.3" stroke-dasharray="1.4,1"/>
<path d="M435.80,72.60 L441.80,74.40 L435.80,76.20 Z" fill="#1010b0"/>
<text x="643.80" y="69.70" font-size="12.2" fill="#9a1414" text-anchor="start" textLength="23.30" lengthAdjust="spacingAndGlyphs">Drift</text>
<line x1="638.20" y1="72.80" x2="673.40" y2="72.80" stroke="#8b0000" stroke-width="1.3" stroke-dasharray="1.4,1"/>
<path d="M672.40,71.00 L678.40,72.80 L672.40,74.60 Z" fill="#8b0000"/>
<text x="49.90" y="344.70" font-size="16" fill="#1a1a1a" text-anchor="start" textLength="18.60" lengthAdjust="spacingAndGlyphs">10</text>
<text x="69.00" y="338.80" font-size="11.3" fill="#1a1a1a" text-anchor="start" textLength="5.60" lengthAdjust="spacingAndGlyphs">5</text>
<text x="104.60" y="344.70" font-size="16" fill="#1a1a1a" text-anchor="start" textLength="18.60" lengthAdjust="spacingAndGlyphs">10</text>
<text x="123.70" y="338.80" font-size="11.3" fill="#1a1a1a" text-anchor="start" textLength="5.60" lengthAdjust="spacingAndGlyphs">6</text>
<text x="159.20" y="344.70" font-size="16" fill="#1a1a1a" text-anchor="start" textLength="18.60" lengthAdjust="spacingAndGlyphs">10</text>
<text x="178.30" y="338.80" font-size="11.3" fill="#1a1a1a" text-anchor="start" textLength="5.60" lengthAdjust="spacingAndGlyphs">7</text>
<text x="77.25" y="361.80" font-size="12.2" font-style="italic" fill="#1a1a1a" textLength="8.6" lengthAdjust="spacingAndGlyphs">R</text>
<text x="86.65" y="363.40" font-size="8.6" font-style="italic" fill="#1a1a1a" textLength="24.2" lengthAdjust="spacingAndGlyphs">eNVM</text>
<text x="115.35" y="361.80" font-size="12.2" fill="#1a1a1a" textLength="62.6" lengthAdjust="spacingAndGlyphs">@0.1V (Ω)</text>
<text x="293.70" y="345.00" font-size="16" fill="#1a1a1a" text-anchor="start" textLength="18.60" lengthAdjust="spacingAndGlyphs">10</text>
<text x="312.80" y="339.40" font-size="11.3" fill="#1a1a1a" text-anchor="start" textLength="5.60" lengthAdjust="spacingAndGlyphs">5</text>
<text x="338.00" y="345.00" font-size="16" fill="#1a1a1a" text-anchor="start" textLength="18.60" lengthAdjust="spacingAndGlyphs">10</text>
<text x="357.10" y="339.40" font-size="11.3" fill="#1a1a1a" text-anchor="start" textLength="5.60" lengthAdjust="spacingAndGlyphs">6</text>
<text x="382.30" y="345.00" font-size="16" fill="#1a1a1a" text-anchor="start" textLength="18.60" lengthAdjust="spacingAndGlyphs">10</text>
<text x="401.40" y="339.40" font-size="11.3" fill="#1a1a1a" text-anchor="start" textLength="5.60" lengthAdjust="spacingAndGlyphs">7</text>
<text x="314.15" y="362.40" font-size="12.2" font-style="italic" fill="#1a1a1a" textLength="8.6" lengthAdjust="spacingAndGlyphs">R</text>
<text x="323.55" y="364.00" font-size="8.6" font-style="italic" fill="#1a1a1a" textLength="24.2" lengthAdjust="spacingAndGlyphs">eNVM</text>
<text x="352.25" y="362.40" font-size="12.2" fill="#1a1a1a" textLength="62.6" lengthAdjust="spacingAndGlyphs">@0.1V (Ω)</text>
<text x="529.50" y="343.30" font-size="16" fill="#1a1a1a" text-anchor="start" textLength="18.60" lengthAdjust="spacingAndGlyphs">10</text>
<text x="548.60" y="337.60" font-size="11.3" fill="#1a1a1a" text-anchor="start" textLength="5.60" lengthAdjust="spacingAndGlyphs">5</text>
<text x="573.90" y="343.30" font-size="16" fill="#1a1a1a" text-anchor="start" textLength="18.60" lengthAdjust="spacingAndGlyphs">10</text>
<text x="593.00" y="337.60" font-size="11.3" fill="#1a1a1a" text-anchor="start" textLength="5.60" lengthAdjust="spacingAndGlyphs">6</text>
<text x="618.20" y="343.30" font-size="16" fill="#1a1a1a" text-anchor="start" textLength="18.60" lengthAdjust="spacingAndGlyphs">10</text>
<text x="637.30" y="337.60" font-size="11.3" fill="#1a1a1a" text-anchor="start" textLength="5.60" lengthAdjust="spacingAndGlyphs">7</text>
<text x="549.85" y="360.90" font-size="12.2" font-style="italic" fill="#1a1a1a" textLength="8.6" lengthAdjust="spacingAndGlyphs">R</text>
<text x="559.25" y="362.50" font-size="8.6" font-style="italic" fill="#1a1a1a" textLength="24.2" lengthAdjust="spacingAndGlyphs">eNVM</text>
<text x="587.95" y="360.90" font-size="12.2" fill="#1a1a1a" textLength="62.6" lengthAdjust="spacingAndGlyphs">@0.1V (Ω)</text>
</svg></body></html>
